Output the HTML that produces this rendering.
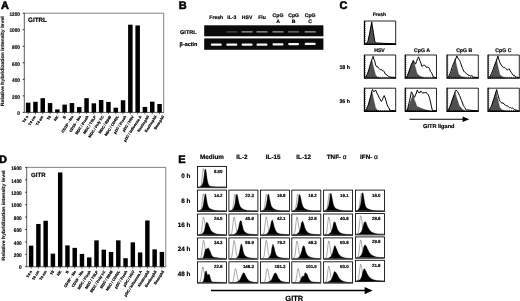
<!DOCTYPE html>
<html><head><meta charset="utf-8"><title>Figure</title>
<style>html,body{margin:0;padding:0;background:#fff;}body{width:520px;height:301px;overflow:hidden;}svg{display:block;filter:blur(0.3px);text-rendering:geometricPrecision;}</style>
</head><body>
<svg width="520" height="301" viewBox="0 0 520 301" font-family="Liberation Sans, Arial, sans-serif" font-weight="bold">
<rect width="520" height="301" fill="#fff"/>
<text x="0.90" y="8.60" font-size="11" text-anchor="start" fill="#000" stroke="#000" stroke-width="0.55" >A</text>
<text x="178.80" y="8.50" font-size="11" text-anchor="start" fill="#000" stroke="#000" stroke-width="0.55" >B</text>
<text x="339.40" y="8.80" font-size="11" text-anchor="start" fill="#000" stroke="#000" stroke-width="0.55" >C</text>
<text x="-1.10" y="163.00" font-size="11" text-anchor="start" fill="#000" stroke="#000" stroke-width="0.55" >D</text>
<text x="178.30" y="163.00" font-size="11" text-anchor="start" fill="#000" stroke="#000" stroke-width="0.55" >E</text>
<path d="M24.3,13.2 H163.7 V112.4" fill="none" stroke="#5a5a5a" stroke-width="0.75"/>
<path d="M24.3,12.899999999999999 V112.4 H164.0" fill="none" stroke="#333" stroke-width="0.8"/>
<line x1="22.7" y1="112.40" x2="24.3" y2="112.40" stroke="#000" stroke-width="0.8"/>
<text x="19.90" y="115.10" font-size="5.2" text-anchor="end" fill="#000" stroke="#000" stroke-width="0.15" textLength="2.63" lengthAdjust="spacingAndGlyphs">0</text>
<line x1="22.7" y1="95.87" x2="24.3" y2="95.87" stroke="#000" stroke-width="0.8"/>
<text x="19.90" y="98.57" font-size="5.2" text-anchor="end" fill="#000" stroke="#000" stroke-width="0.15" textLength="7.89" lengthAdjust="spacingAndGlyphs">200</text>
<line x1="22.7" y1="79.33" x2="24.3" y2="79.33" stroke="#000" stroke-width="0.8"/>
<text x="19.90" y="82.03" font-size="5.2" text-anchor="end" fill="#000" stroke="#000" stroke-width="0.15" textLength="7.89" lengthAdjust="spacingAndGlyphs">400</text>
<line x1="22.7" y1="62.80" x2="24.3" y2="62.80" stroke="#000" stroke-width="0.8"/>
<text x="19.90" y="65.50" font-size="5.2" text-anchor="end" fill="#000" stroke="#000" stroke-width="0.15" textLength="7.89" lengthAdjust="spacingAndGlyphs">600</text>
<line x1="22.7" y1="46.27" x2="24.3" y2="46.27" stroke="#000" stroke-width="0.8"/>
<text x="19.90" y="48.97" font-size="5.2" text-anchor="end" fill="#000" stroke="#000" stroke-width="0.15" textLength="7.89" lengthAdjust="spacingAndGlyphs">800</text>
<line x1="22.7" y1="29.73" x2="24.3" y2="29.73" stroke="#000" stroke-width="0.8"/>
<text x="19.90" y="32.43" font-size="5.2" text-anchor="end" fill="#000" stroke="#000" stroke-width="0.15" textLength="10.52" lengthAdjust="spacingAndGlyphs">1000</text>
<line x1="22.7" y1="13.20" x2="24.3" y2="13.20" stroke="#000" stroke-width="0.8"/>
<text x="19.90" y="15.90" font-size="5.2" text-anchor="end" fill="#000" stroke="#000" stroke-width="0.15" textLength="10.52" lengthAdjust="spacingAndGlyphs">1200</text>
<rect x="25.90" y="102.65" width="4.5" height="9.75" fill="#000"/>
<line x1="28.15" y1="112.4" x2="28.15" y2="114.2" stroke="#000" stroke-width="0.6"/>
<text transform="translate(28.40,116.70) rotate(-57.5)" font-size="3.7" text-anchor="end" fill="#000" stroke="#000" stroke-width="0.18">T4 n</text>
<rect x="33.20" y="101.82" width="4.5" height="10.58" fill="#000"/>
<line x1="35.45" y1="112.4" x2="35.45" y2="114.2" stroke="#000" stroke-width="0.6"/>
<text transform="translate(35.95,116.70) rotate(-57.5)" font-size="3.7" text-anchor="end" fill="#000" stroke="#000" stroke-width="0.18">T4 cm</text>
<rect x="40.50" y="98.18" width="4.5" height="14.22" fill="#000"/>
<line x1="42.75" y1="112.4" x2="42.75" y2="114.2" stroke="#000" stroke-width="0.6"/>
<text transform="translate(43.50,116.70) rotate(-57.5)" font-size="3.7" text-anchor="end" fill="#000" stroke="#000" stroke-width="0.18">T4 em</text>
<rect x="47.80" y="103.06" width="4.5" height="9.34" fill="#000"/>
<line x1="50.05" y1="112.4" x2="50.05" y2="114.2" stroke="#000" stroke-width="0.6"/>
<text transform="translate(51.05,116.70) rotate(-57.5)" font-size="3.7" text-anchor="end" fill="#000" stroke="#000" stroke-width="0.18">T8</text>
<rect x="55.10" y="109.42" width="4.5" height="2.98" fill="#000"/>
<line x1="57.35" y1="112.4" x2="57.35" y2="114.2" stroke="#000" stroke-width="0.6"/>
<text transform="translate(58.60,116.70) rotate(-57.5)" font-size="3.7" text-anchor="end" fill="#000" stroke="#000" stroke-width="0.18">NK</text>
<rect x="62.40" y="104.63" width="4.5" height="7.77" fill="#000"/>
<line x1="64.65" y1="112.4" x2="64.65" y2="114.2" stroke="#000" stroke-width="0.6"/>
<text transform="translate(66.15,116.70) rotate(-57.5)" font-size="3.7" text-anchor="end" fill="#000" stroke="#000" stroke-width="0.18">B</text>
<rect x="69.70" y="103.06" width="4.5" height="9.34" fill="#000"/>
<line x1="71.95" y1="112.4" x2="71.95" y2="114.2" stroke="#000" stroke-width="0.6"/>
<text transform="translate(73.70,116.70) rotate(-57.5)" font-size="3.7" text-anchor="end" fill="#000" stroke="#000" stroke-width="0.18">CD16<tspan baseline-shift='super' font-size='2.2'>+</tspan> - Mo</text>
<rect x="77.00" y="107.03" width="4.5" height="5.37" fill="#000"/>
<line x1="79.25" y1="112.4" x2="79.25" y2="114.2" stroke="#000" stroke-width="0.6"/>
<text transform="translate(81.25,116.70) rotate(-57.5)" font-size="3.7" text-anchor="end" fill="#000" stroke="#000" stroke-width="0.18">CD16<tspan baseline-shift='super' font-size='2.2'>-</tspan> - Mo</text>
<rect x="84.30" y="98.18" width="4.5" height="14.22" fill="#000"/>
<line x1="86.55" y1="112.4" x2="86.55" y2="114.2" stroke="#000" stroke-width="0.6"/>
<text transform="translate(88.80,116.70) rotate(-57.5)" font-size="3.7" text-anchor="end" fill="#000" stroke="#000" stroke-width="0.18">MDC / Fresh</text>
<rect x="91.60" y="103.31" width="4.5" height="9.09" fill="#000"/>
<line x1="93.85" y1="112.4" x2="93.85" y2="114.2" stroke="#000" stroke-width="0.6"/>
<text transform="translate(96.35,116.70) rotate(-57.5)" font-size="3.7" text-anchor="end" fill="#000" stroke="#000" stroke-width="0.18">MDC / TSLP</text>
<rect x="98.90" y="100.00" width="4.5" height="12.40" fill="#000"/>
<line x1="101.15" y1="112.4" x2="101.15" y2="114.2" stroke="#000" stroke-width="0.6"/>
<text transform="translate(103.90,116.70) rotate(-57.5)" font-size="3.7" text-anchor="end" fill="#000" stroke="#000" stroke-width="0.18">MDC / Poly I:C</text>
<rect x="106.20" y="101.90" width="4.5" height="10.50" fill="#000"/>
<line x1="108.45" y1="112.4" x2="108.45" y2="114.2" stroke="#000" stroke-width="0.6"/>
<text transform="translate(111.45,116.70) rotate(-57.5)" font-size="3.7" text-anchor="end" fill="#000" stroke="#000" stroke-width="0.18">MDC / R848</text>
<rect x="113.50" y="107.69" width="4.5" height="4.71" fill="#000"/>
<line x1="115.75" y1="112.4" x2="115.75" y2="114.2" stroke="#000" stroke-width="0.6"/>
<text transform="translate(119.00,116.70) rotate(-57.5)" font-size="3.7" text-anchor="end" fill="#000" stroke="#000" stroke-width="0.18">MDC / CD40L</text>
<rect x="120.80" y="100.25" width="4.5" height="12.15" fill="#000"/>
<line x1="123.05" y1="112.4" x2="123.05" y2="114.2" stroke="#000" stroke-width="0.6"/>
<text transform="translate(126.55,116.70) rotate(-57.5)" font-size="3.7" text-anchor="end" fill="#000" stroke="#000" stroke-width="0.18">pDC / Fresh</text>
<rect x="128.10" y="24.69" width="4.5" height="87.71" fill="#000"/>
<line x1="130.35" y1="112.4" x2="130.35" y2="114.2" stroke="#000" stroke-width="0.6"/>
<text transform="translate(134.10,116.70) rotate(-57.5)" font-size="3.7" text-anchor="end" fill="#000" stroke="#000" stroke-width="0.18">pDC / HSV</text>
<rect x="135.40" y="25.43" width="4.5" height="86.97" fill="#000"/>
<line x1="137.65" y1="112.4" x2="137.65" y2="114.2" stroke="#000" stroke-width="0.6"/>
<text transform="translate(141.65,116.70) rotate(-57.5)" font-size="3.7" text-anchor="end" fill="#000" stroke="#000" stroke-width="0.18">pDC / Influenza A</text>
<rect x="142.70" y="106.94" width="4.5" height="5.46" fill="#000"/>
<line x1="144.95" y1="112.4" x2="144.95" y2="114.2" stroke="#000" stroke-width="0.6"/>
<text transform="translate(149.20,116.70) rotate(-57.5)" font-size="3.7" text-anchor="end" fill="#000" stroke="#000" stroke-width="0.18">Neutrophil</text>
<rect x="150.00" y="101.65" width="4.5" height="10.75" fill="#000"/>
<line x1="152.25" y1="112.4" x2="152.25" y2="114.2" stroke="#000" stroke-width="0.6"/>
<text transform="translate(156.75,116.70) rotate(-57.5)" font-size="3.7" text-anchor="end" fill="#000" stroke="#000" stroke-width="0.18">Eosinophil</text>
<rect x="157.30" y="103.97" width="4.5" height="8.43" fill="#000"/>
<line x1="159.55" y1="112.4" x2="159.55" y2="114.2" stroke="#000" stroke-width="0.6"/>
<text transform="translate(164.30,116.70) rotate(-57.5)" font-size="3.7" text-anchor="end" fill="#000" stroke="#000" stroke-width="0.18">Basophil</text>
<text x="28.00" y="22.00" font-size="6.3" text-anchor="start" fill="#000" stroke="#000" stroke-width="0.18" >GITRL</text>
<text transform="translate(3.9,61.20) rotate(-90)" font-size="4.7" textLength="90" lengthAdjust="spacingAndGlyphs" text-anchor="middle" fill="#111" stroke="#111" stroke-width="0.15">Relative hybridization intensity level</text>
<path d="M26.7,167.4 H165.75 V266.75" fill="none" stroke="#5a5a5a" stroke-width="0.75"/>
<path d="M26.7,167.1 V266.75 H166.05" fill="none" stroke="#333" stroke-width="0.8"/>
<line x1="25.2" y1="266.75" x2="26.7" y2="266.75" stroke="#000" stroke-width="0.8"/>
<text x="21.70" y="269.45" font-size="5.2" text-anchor="end" fill="#000" stroke="#000" stroke-width="0.15" textLength="2.63" lengthAdjust="spacingAndGlyphs">0</text>
<line x1="25.2" y1="254.33" x2="26.7" y2="254.33" stroke="#000" stroke-width="0.8"/>
<text x="21.70" y="257.03" font-size="5.2" text-anchor="end" fill="#000" stroke="#000" stroke-width="0.15" textLength="7.89" lengthAdjust="spacingAndGlyphs">200</text>
<line x1="25.2" y1="241.91" x2="26.7" y2="241.91" stroke="#000" stroke-width="0.8"/>
<text x="21.70" y="244.61" font-size="5.2" text-anchor="end" fill="#000" stroke="#000" stroke-width="0.15" textLength="7.89" lengthAdjust="spacingAndGlyphs">400</text>
<line x1="25.2" y1="229.49" x2="26.7" y2="229.49" stroke="#000" stroke-width="0.8"/>
<text x="21.70" y="232.19" font-size="5.2" text-anchor="end" fill="#000" stroke="#000" stroke-width="0.15" textLength="7.89" lengthAdjust="spacingAndGlyphs">600</text>
<line x1="25.2" y1="217.07" x2="26.7" y2="217.07" stroke="#000" stroke-width="0.8"/>
<text x="21.70" y="219.77" font-size="5.2" text-anchor="end" fill="#000" stroke="#000" stroke-width="0.15" textLength="7.89" lengthAdjust="spacingAndGlyphs">800</text>
<line x1="25.2" y1="204.66" x2="26.7" y2="204.66" stroke="#000" stroke-width="0.8"/>
<text x="21.70" y="207.36" font-size="5.2" text-anchor="end" fill="#000" stroke="#000" stroke-width="0.15" textLength="10.52" lengthAdjust="spacingAndGlyphs">1000</text>
<line x1="25.2" y1="192.24" x2="26.7" y2="192.24" stroke="#000" stroke-width="0.8"/>
<text x="21.70" y="194.94" font-size="5.2" text-anchor="end" fill="#000" stroke="#000" stroke-width="0.15" textLength="10.52" lengthAdjust="spacingAndGlyphs">1200</text>
<line x1="25.2" y1="179.82" x2="26.7" y2="179.82" stroke="#000" stroke-width="0.8"/>
<text x="21.70" y="182.52" font-size="5.2" text-anchor="end" fill="#000" stroke="#000" stroke-width="0.15" textLength="10.52" lengthAdjust="spacingAndGlyphs">1400</text>
<line x1="25.2" y1="167.40" x2="26.7" y2="167.40" stroke="#000" stroke-width="0.8"/>
<text x="21.70" y="170.10" font-size="5.2" text-anchor="end" fill="#000" stroke="#000" stroke-width="0.15" textLength="10.52" lengthAdjust="spacingAndGlyphs">1600</text>
<rect x="28.90" y="245.64" width="4.45" height="21.11" fill="#000"/>
<line x1="31.12" y1="266.75" x2="31.12" y2="268.55" stroke="#000" stroke-width="0.6"/>
<text transform="translate(32.30,271.55) rotate(-57.5)" font-size="3.7" text-anchor="end" fill="#000" stroke="#000" stroke-width="0.18">T4 n</text>
<rect x="36.16" y="223.97" width="4.45" height="42.78" fill="#000"/>
<line x1="38.39" y1="266.75" x2="38.39" y2="268.55" stroke="#000" stroke-width="0.6"/>
<text transform="translate(39.63,271.55) rotate(-57.5)" font-size="3.7" text-anchor="end" fill="#000" stroke="#000" stroke-width="0.18">T4 cm</text>
<rect x="43.43" y="220.74" width="4.45" height="46.01" fill="#000"/>
<line x1="45.66" y1="266.75" x2="45.66" y2="268.55" stroke="#000" stroke-width="0.6"/>
<text transform="translate(46.96,271.55) rotate(-57.5)" font-size="3.7" text-anchor="end" fill="#000" stroke="#000" stroke-width="0.18">T4 em</text>
<rect x="50.69" y="253.65" width="4.45" height="13.10" fill="#000"/>
<line x1="52.92" y1="266.75" x2="52.92" y2="268.55" stroke="#000" stroke-width="0.6"/>
<text transform="translate(54.29,271.55) rotate(-57.5)" font-size="3.7" text-anchor="end" fill="#000" stroke="#000" stroke-width="0.18">T8</text>
<rect x="57.96" y="172.43" width="4.45" height="94.32" fill="#000"/>
<line x1="60.18" y1="266.75" x2="60.18" y2="268.55" stroke="#000" stroke-width="0.6"/>
<text transform="translate(61.62,271.55) rotate(-57.5)" font-size="3.7" text-anchor="end" fill="#000" stroke="#000" stroke-width="0.18">NK</text>
<rect x="65.22" y="245.39" width="4.45" height="21.36" fill="#000"/>
<line x1="67.45" y1="266.75" x2="67.45" y2="268.55" stroke="#000" stroke-width="0.6"/>
<text transform="translate(68.95,271.55) rotate(-57.5)" font-size="3.7" text-anchor="end" fill="#000" stroke="#000" stroke-width="0.18">B</text>
<rect x="72.49" y="247.87" width="4.45" height="18.88" fill="#000"/>
<line x1="74.71" y1="266.75" x2="74.71" y2="268.55" stroke="#000" stroke-width="0.6"/>
<text transform="translate(76.28,271.55) rotate(-57.5)" font-size="3.7" text-anchor="end" fill="#000" stroke="#000" stroke-width="0.18">CD16<tspan baseline-shift='super' font-size='2.2'>+</tspan> - Mo</text>
<rect x="79.75" y="253.90" width="4.45" height="12.85" fill="#000"/>
<line x1="81.98" y1="266.75" x2="81.98" y2="268.55" stroke="#000" stroke-width="0.6"/>
<text transform="translate(83.61,271.55) rotate(-57.5)" font-size="3.7" text-anchor="end" fill="#000" stroke="#000" stroke-width="0.18">CD16<tspan baseline-shift='super' font-size='2.2'>-</tspan> - Mo</text>
<rect x="87.02" y="257.44" width="4.45" height="9.31" fill="#000"/>
<line x1="89.24" y1="266.75" x2="89.24" y2="268.55" stroke="#000" stroke-width="0.6"/>
<text transform="translate(90.94,271.55) rotate(-57.5)" font-size="3.7" text-anchor="end" fill="#000" stroke="#000" stroke-width="0.18">MDC / Fresh</text>
<rect x="94.28" y="240.36" width="4.45" height="26.39" fill="#000"/>
<line x1="96.51" y1="266.75" x2="96.51" y2="268.55" stroke="#000" stroke-width="0.6"/>
<text transform="translate(98.27,271.55) rotate(-57.5)" font-size="3.7" text-anchor="end" fill="#000" stroke="#000" stroke-width="0.18">MDC / TSLP</text>
<rect x="101.55" y="249.67" width="4.45" height="17.08" fill="#000"/>
<line x1="103.77" y1="266.75" x2="103.77" y2="268.55" stroke="#000" stroke-width="0.6"/>
<text transform="translate(105.60,271.55) rotate(-57.5)" font-size="3.7" text-anchor="end" fill="#000" stroke="#000" stroke-width="0.18">MDC / Poly I:C</text>
<rect x="108.81" y="251.91" width="4.45" height="14.84" fill="#000"/>
<line x1="111.04" y1="266.75" x2="111.04" y2="268.55" stroke="#000" stroke-width="0.6"/>
<text transform="translate(112.93,271.55) rotate(-57.5)" font-size="3.7" text-anchor="end" fill="#000" stroke="#000" stroke-width="0.18">MDC / R848</text>
<rect x="116.08" y="240.36" width="4.45" height="26.39" fill="#000"/>
<line x1="118.30" y1="266.75" x2="118.30" y2="268.55" stroke="#000" stroke-width="0.6"/>
<text transform="translate(120.26,271.55) rotate(-57.5)" font-size="3.7" text-anchor="end" fill="#000" stroke="#000" stroke-width="0.18">MDC / CD40L</text>
<rect x="123.34" y="258.18" width="4.45" height="8.57" fill="#000"/>
<line x1="125.57" y1="266.75" x2="125.57" y2="268.55" stroke="#000" stroke-width="0.6"/>
<text transform="translate(127.59,271.55) rotate(-57.5)" font-size="3.7" text-anchor="end" fill="#000" stroke="#000" stroke-width="0.18">pDC / Fresh</text>
<rect x="130.61" y="242.35" width="4.45" height="24.40" fill="#000"/>
<line x1="132.83" y1="266.75" x2="132.83" y2="268.55" stroke="#000" stroke-width="0.6"/>
<text transform="translate(134.92,271.55) rotate(-57.5)" font-size="3.7" text-anchor="end" fill="#000" stroke="#000" stroke-width="0.18">pDC / HSV</text>
<rect x="137.88" y="252.41" width="4.45" height="14.34" fill="#000"/>
<line x1="140.10" y1="266.75" x2="140.10" y2="268.55" stroke="#000" stroke-width="0.6"/>
<text transform="translate(142.25,271.55) rotate(-57.5)" font-size="3.7" text-anchor="end" fill="#000" stroke="#000" stroke-width="0.18">pDC / Influenza A</text>
<rect x="145.14" y="220.49" width="4.45" height="46.26" fill="#000"/>
<line x1="147.36" y1="266.75" x2="147.36" y2="268.55" stroke="#000" stroke-width="0.6"/>
<text transform="translate(149.58,271.55) rotate(-57.5)" font-size="3.7" text-anchor="end" fill="#000" stroke="#000" stroke-width="0.18">Neutrophil</text>
<rect x="152.41" y="249.36" width="4.45" height="17.39" fill="#000"/>
<line x1="154.63" y1="266.75" x2="154.63" y2="268.55" stroke="#000" stroke-width="0.6"/>
<text transform="translate(156.91,271.55) rotate(-57.5)" font-size="3.7" text-anchor="end" fill="#000" stroke="#000" stroke-width="0.18">Eosinophil</text>
<rect x="159.67" y="251.91" width="4.45" height="14.84" fill="#000"/>
<line x1="161.89" y1="266.75" x2="161.89" y2="268.55" stroke="#000" stroke-width="0.6"/>
<text transform="translate(164.24,271.55) rotate(-57.5)" font-size="3.7" text-anchor="end" fill="#000" stroke="#000" stroke-width="0.18">Basophil</text>
<text x="31.00" y="176.70" font-size="6.1" text-anchor="start" fill="#000" stroke="#000" stroke-width="0.18" >GITR</text>
<text transform="translate(4.6,215.47) rotate(-90)" font-size="4.7" textLength="90" lengthAdjust="spacingAndGlyphs" text-anchor="middle" fill="#111" stroke="#111" stroke-width="0.15">Relative hybridization intensity level</text>
<rect x="204.2" y="25.3" width="119.19999999999999" height="11.0" fill="#0a0a0a"/>
<rect x="204.2" y="38.4" width="119.19999999999999" height="11.4" fill="#0a0a0a"/>
<text x="216.30" y="19.30" font-size="5.1" text-anchor="middle" fill="#000" stroke="#000" stroke-width="0.18" >Fresh</text>
<text x="231.80" y="19.30" font-size="5.1" text-anchor="middle" fill="#000" stroke="#000" stroke-width="0.18" >IL-3</text>
<text x="247.10" y="19.30" font-size="5.1" text-anchor="middle" fill="#000" stroke="#000" stroke-width="0.18" >HSV</text>
<text x="262.00" y="19.30" font-size="5.1" text-anchor="middle" fill="#000" stroke="#000" stroke-width="0.18" >Flu</text>
<text x="278.00" y="16.70" font-size="5.1" text-anchor="middle" fill="#000" stroke="#000" stroke-width="0.18" >CpG</text>
<text x="278.00" y="22.90" font-size="5.1" text-anchor="middle" fill="#000" stroke="#000" stroke-width="0.18" >A</text>
<text x="293.60" y="16.70" font-size="5.1" text-anchor="middle" fill="#000" stroke="#000" stroke-width="0.18" >CpG</text>
<text x="293.60" y="22.90" font-size="5.1" text-anchor="middle" fill="#000" stroke="#000" stroke-width="0.18" >B</text>
<text x="310.20" y="16.70" font-size="5.1" text-anchor="middle" fill="#000" stroke="#000" stroke-width="0.18" >CpG</text>
<text x="310.20" y="22.90" font-size="5.1" text-anchor="middle" fill="#000" stroke="#000" stroke-width="0.18" >C</text>
<text x="180.10" y="34.30" font-size="5.5" text-anchor="start" fill="#000" stroke="#000" stroke-width="0.18" >GITRL</text>
<text x="179.60" y="46.30" font-size="5.45" text-anchor="start" fill="#000" stroke="#000" stroke-width="0.18" >β-actin</text>
<defs><filter id="b1" x="-20%" y="-100%" width="140%" height="300%"><feGaussianBlur stdDeviation="0.45"/></filter></defs>
<rect x="210.8" y="43.5" width="11" height="2.3" rx="1.1" fill="#fff" opacity="0.97" filter="url(#b1)"/>
<rect x="226.20000000000002" y="31.2" width="11.2" height="1.25" rx="0.5" fill="#fff" opacity="0.26" filter="url(#b1)"/>
<rect x="226.3" y="43.5" width="11" height="2.3" rx="1.1" fill="#fff" opacity="0.97" filter="url(#b1)"/>
<rect x="241.5" y="31.2" width="11.2" height="1.25" rx="0.5" fill="#fff" opacity="0.62" filter="url(#b1)"/>
<rect x="241.6" y="43.5" width="11" height="2.3" rx="1.1" fill="#fff" opacity="0.97" filter="url(#b1)"/>
<rect x="256.4" y="31.2" width="11.2" height="1.25" rx="0.5" fill="#fff" opacity="0.62" filter="url(#b1)"/>
<rect x="256.5" y="43.5" width="11" height="2.3" rx="1.1" fill="#fff" opacity="0.97" filter="url(#b1)"/>
<rect x="272.4" y="31.2" width="11.2" height="1.25" rx="0.5" fill="#fff" opacity="0.6" filter="url(#b1)"/>
<rect x="272.5" y="43.3" width="11" height="2.3" rx="1.1" fill="#fff" opacity="0.97" filter="url(#b1)"/>
<rect x="288.0" y="31.2" width="11.2" height="1.25" rx="0.5" fill="#fff" opacity="0.45" filter="url(#b1)"/>
<rect x="288.1" y="42.9" width="11" height="2.3" rx="1.1" fill="#fff" opacity="0.97" filter="url(#b1)"/>
<rect x="304.59999999999997" y="31.2" width="11.2" height="1.25" rx="0.5" fill="#fff" opacity="0.62" filter="url(#b1)"/>
<rect x="304.7" y="42.8" width="11" height="2.3" rx="1.1" fill="#fff" opacity="0.97" filter="url(#b1)"/>
<rect x="364.3" y="21.0" width="31.4" height="23.7" fill="#fff" stroke="none"/>
<path d="M365.9,44.0L366.6,43.1L367.3,42.2L368.1,41.3L368.7,38.0L369.4,34.7L370.1,31.5L370.6,28.4L371.2,25.4L371.7,22.3L372.2,25.8L372.7,29.2L373.2,32.6L373.7,35.6L374.2,38.7L374.7,41.7L375.4,42.3L376.1,42.8L376.9,43.3L379.0,43.5L381.0,43.6L383.1,43.8L383.3,43.8L383.6,43.9L383.8,44.0Z" fill="#505050" stroke="#444" stroke-width="0.3"/>
<path d="M364.9,44.0L365.2,43.8L365.6,43.7L365.9,43.5L366.6,42.9L367.3,42.3L368.1,40.8L368.7,37.3L369.4,35.0L370.1,31.0L370.6,27.9L371.2,25.1L371.7,21.9L372.3,26.2L372.8,29.0L373.4,32.6L373.9,36.2L374.3,38.5L374.8,41.3L375.6,42.5L376.4,43.0L377.2,42.9L379.2,43.1L381.2,43.2L383.1,43.3L387.1,43.5L391.1,43.6L395.1,43.8" fill="none" stroke="#000" stroke-width="1.0" stroke-linejoin="round"/>
<path d="M364.3,21.0 H395.7 V44.7" fill="none" stroke="#000" stroke-width="0.85"/>
<path d="M364.45,20.65 V44.35 H396.05" fill="none" stroke="#000" stroke-width="1.25"/>
<path d="M364.8,43.6 H395.7" fill="none" stroke="#000" stroke-width="0.9" stroke-dasharray="0.8 1.1"/>
<path d="M365.2,22.0 V44.7" fill="none" stroke="#000" stroke-width="0.7" stroke-dasharray="0.7 1.3"/>
<text x="379.30" y="16.20" font-size="4.9" text-anchor="middle" fill="#000" stroke="#000" stroke-width="0.18" >Fresh</text>
<text x="379.50" y="51.50" font-size="5.2" text-anchor="middle" fill="#000" stroke="#000" stroke-width="0.18" >HSV</text>
<text x="422.00" y="51.50" font-size="5.2" text-anchor="middle" fill="#000" stroke="#000" stroke-width="0.18" >CpG A</text>
<text x="464.20" y="51.50" font-size="5.2" text-anchor="middle" fill="#000" stroke="#000" stroke-width="0.18" >CpG B</text>
<text x="503.40" y="51.50" font-size="5.2" text-anchor="middle" fill="#000" stroke="#000" stroke-width="0.18" >CpG C</text>
<rect x="364.3" y="55.0" width="31.4" height="23.4" fill="#fff" stroke="none"/>
<path d="M365.4,77.7L366.1,76.6L366.8,75.5L367.4,74.3L368.3,71.7L369.1,69.1L370.0,66.5L370.6,64.1L371.2,61.8L371.8,59.5L372.5,62.2L373.1,64.9L373.7,67.6L374.3,70.0L375.0,72.5L375.6,75.0L376.2,75.7L376.9,76.4L377.5,77.0L378.3,77.2L379.2,77.5L380.0,77.7Z" fill="#505050" stroke="#444" stroke-width="0.3"/>
<path d="M364.9,77.7L365.2,77.5L365.6,77.2L365.9,77.0L366.6,74.9L367.3,74.3L368.1,72.1L368.9,69.7L369.7,66.3L370.6,63.8L371.4,60.6L372.3,58.7L373.1,56.3L373.9,59.3L374.8,61.3L375.6,64.9L376.5,66.6L377.5,66.4L378.4,68.0L379.5,68.9L380.5,69.6L381.6,69.6L382.2,70.7L382.8,70.8L383.5,71.0L384.3,71.6L385.1,73.8L386.0,74.4L387.1,75.2L388.2,75.9L389.3,77.0L391.2,77.2L393.1,77.3L395.1,77.5" fill="none" stroke="#000" stroke-width="1.0" stroke-linejoin="round"/>
<path d="M364.3,55.0 H395.7 V78.4" fill="none" stroke="#000" stroke-width="0.85"/>
<path d="M364.45,54.65 V78.05000000000001 H396.05" fill="none" stroke="#000" stroke-width="1.25"/>
<path d="M364.8,77.30000000000001 H395.7" fill="none" stroke="#000" stroke-width="0.9" stroke-dasharray="0.8 1.1"/>
<path d="M365.2,56.0 V78.4" fill="none" stroke="#000" stroke-width="0.7" stroke-dasharray="0.7 1.3"/>
<rect x="364.3" y="88.2" width="31.4" height="23.4" fill="#fff" stroke="none"/>
<path d="M365.4,110.9L366.1,109.8L366.8,108.6L367.4,107.5L368.3,104.5L369.1,101.5L370.0,98.5L370.6,96.0L371.2,93.4L371.8,90.9L372.5,93.8L373.1,96.7L373.7,99.6L374.3,102.3L375.0,105.0L375.6,107.7L376.2,108.6L376.9,109.4L377.5,110.2L378.3,110.4L379.2,110.7L380.0,110.9Z" fill="#505050" stroke="#444" stroke-width="0.3"/>
<path d="M364.9,110.9L365.2,110.7L365.6,110.4L365.9,110.2L366.6,108.8L367.3,106.8L368.1,105.3L368.9,103.0L369.7,100.0L370.6,96.3L371.2,94.5L371.8,91.5L372.5,89.5L373.0,90.4L373.5,91.3L374.0,91.8L374.6,91.0L375.1,90.6L375.6,90.0L376.9,93.1L378.1,95.1L379.4,98.3L380.1,99.0L380.8,100.8L381.6,101.4L382.5,99.4L383.3,97.5L384.2,95.6L385.2,98.0L386.1,101.2L387.1,104.6L388.0,106.9L388.9,107.7L389.9,110.4L391.6,110.5L393.3,110.6L395.1,110.7" fill="none" stroke="#000" stroke-width="1.0" stroke-linejoin="round"/>
<path d="M364.3,88.2 H395.7 V111.6" fill="none" stroke="#000" stroke-width="0.85"/>
<path d="M364.45,87.85000000000001 V111.25 H396.05" fill="none" stroke="#000" stroke-width="1.25"/>
<path d="M364.8,110.5 H395.7" fill="none" stroke="#000" stroke-width="0.9" stroke-dasharray="0.8 1.1"/>
<path d="M365.2,89.2 V111.6" fill="none" stroke="#000" stroke-width="0.7" stroke-dasharray="0.7 1.3"/>
<rect x="405.1" y="55.0" width="31.4" height="23.4" fill="#fff" stroke="none"/>
<path d="M406.0,77.7L406.8,76.2L407.5,74.7L408.2,73.2L409.2,70.6L410.1,68.0L411.1,65.3L411.8,63.5L412.5,61.6L413.3,59.7L413.9,62.0L414.5,64.2L415.1,66.5L415.8,68.7L416.4,71.0L417.0,73.2L418.0,74.2L418.9,75.2L419.9,76.1L420.9,76.5L422.0,76.9L423.0,77.2L423.3,77.4L423.6,77.5L423.9,77.7Z" fill="#505050" stroke="#444" stroke-width="0.3"/>
<path d="M405.7,77.7L406.0,77.5L406.4,77.4L406.7,77.2L407.5,75.8L408.3,73.2L409.2,71.0L409.9,68.3L410.6,67.0L411.4,64.2L412.0,63.1L412.6,62.7L413.3,60.8L414.0,61.7L414.7,62.7L415.5,64.2L416.5,61.6L417.6,58.7L418.6,56.8L419.7,60.3L420.8,62.9L421.9,66.5L422.7,65.8L423.5,65.3L424.3,64.9L425.0,65.8L425.7,66.1L426.5,67.6L427.2,66.9L428.0,67.6L428.8,67.6L429.6,68.8L430.4,71.3L431.2,72.1L431.9,73.5L432.7,75.3L433.5,77.2L434.3,77.3L435.1,77.4L435.9,77.5" fill="none" stroke="#000" stroke-width="1.0" stroke-linejoin="round"/>
<path d="M405.1,55.0 H436.5 V78.4" fill="none" stroke="#000" stroke-width="0.85"/>
<path d="M405.25,54.65 V78.05000000000001 H436.85" fill="none" stroke="#000" stroke-width="1.25"/>
<path d="M405.6,77.30000000000001 H436.5" fill="none" stroke="#000" stroke-width="0.9" stroke-dasharray="0.8 1.1"/>
<path d="M406.0,56.0 V78.4" fill="none" stroke="#000" stroke-width="0.7" stroke-dasharray="0.7 1.3"/>
<rect x="405.1" y="88.2" width="31.4" height="23.4" fill="#fff" stroke="none"/>
<path d="M406.0,110.9L406.8,109.8L407.5,108.6L408.2,107.5L409.2,104.9L410.1,102.3L411.1,99.6L411.7,98.1L412.3,96.6L413.0,95.1L413.6,97.0L414.2,98.9L414.8,100.8L415.6,102.6L416.3,104.5L417.0,106.4L418.8,107.1L420.6,107.9L422.4,108.6L424.1,109.2L425.9,109.7L427.7,110.2L428.5,110.4L429.4,110.7L430.2,110.9Z" fill="#505050" stroke="#444" stroke-width="0.3"/>
<path d="M405.7,110.9L406.4,110.7L407.0,110.4L407.6,110.2L408.2,106.3L408.9,103.4L409.5,100.8L410.1,98.1L410.8,95.0L411.4,91.8L412.4,93.4L413.5,96.3L414.5,97.4L415.5,95.0L416.4,93.0L417.3,90.0L418.0,91.6L418.6,92.6L419.2,92.9L419.8,91.9L420.3,92.3L420.8,91.1L421.6,92.2L422.5,92.8L423.3,93.3L424.0,92.3L424.8,93.1L425.5,92.0L426.2,92.8L427.0,93.3L427.7,94.0L428.3,94.9L429.0,96.5L429.6,98.5L430.5,101.9L431.5,106.8L432.4,110.4L433.6,110.5L434.7,110.6L435.9,110.7" fill="none" stroke="#000" stroke-width="1.0" stroke-linejoin="round"/>
<path d="M405.1,88.2 H436.5 V111.6" fill="none" stroke="#000" stroke-width="0.85"/>
<path d="M405.25,87.85000000000001 V111.25 H436.85" fill="none" stroke="#000" stroke-width="1.25"/>
<path d="M405.6,110.5 H436.5" fill="none" stroke="#000" stroke-width="0.9" stroke-dasharray="0.8 1.1"/>
<path d="M406.0,89.2 V111.6" fill="none" stroke="#000" stroke-width="0.7" stroke-dasharray="0.7 1.3"/>
<rect x="446.9" y="55.0" width="31.4" height="23.4" fill="#fff" stroke="none"/>
<path d="M448.2,77.7L448.9,76.6L449.6,75.5L450.4,74.3L451.3,71.7L452.2,69.1L453.2,66.5L453.8,63.8L454.4,61.1L455.1,58.4L455.6,61.1L456.2,63.8L456.8,66.5L457.4,68.9L457.9,71.4L458.5,73.9L459.4,74.7L460.2,75.5L461.0,76.4L462.2,76.7L463.3,77.0L464.5,77.2L464.9,77.4L465.3,77.5L465.7,77.7Z" fill="#505050" stroke="#444" stroke-width="0.3"/>
<path d="M447.5,77.7L447.8,77.5L448.2,77.2L448.5,77.0L449.3,75.1L450.1,73.2L451.0,71.0L451.9,67.7L452.9,65.0L453.8,63.1L454.8,61.2L455.8,58.8L456.8,55.9L457.8,57.9L458.8,59.4L459.8,60.6L460.4,62.4L461.0,64.1L461.6,66.0L462.6,68.5L463.7,71.0L464.8,72.3L466.3,73.5L467.7,74.6L469.2,75.5L470.7,75.9L472.1,75.9L473.6,77.2L475.0,77.3L476.3,77.4L477.7,77.5" fill="none" stroke="#000" stroke-width="1.0" stroke-linejoin="round"/>
<path d="M446.9,55.0 H478.29999999999995 V78.4" fill="none" stroke="#000" stroke-width="0.85"/>
<path d="M447.04999999999995,54.65 V78.05000000000001 H478.65" fill="none" stroke="#000" stroke-width="1.25"/>
<path d="M447.4,77.30000000000001 H478.29999999999995" fill="none" stroke="#000" stroke-width="0.9" stroke-dasharray="0.8 1.1"/>
<path d="M447.79999999999995,56.0 V78.4" fill="none" stroke="#000" stroke-width="0.7" stroke-dasharray="0.7 1.3"/>
<rect x="446.9" y="88.2" width="31.4" height="23.4" fill="#fff" stroke="none"/>
<path d="M447.8,110.9L448.6,109.4L449.3,107.9L450.0,106.4L450.9,103.8L451.7,101.1L452.6,98.5L453.3,96.3L454.0,94.2L454.8,92.0L455.5,94.2L456.2,96.3L456.9,98.5L457.8,101.0L458.6,103.5L459.5,105.9L460.5,107.1L461.6,108.3L462.6,109.5L463.4,110.0L464.3,110.4L465.1,110.9Z" fill="#505050" stroke="#444" stroke-width="0.3"/>
<path d="M447.5,110.9L447.8,110.7L448.2,110.4L448.5,110.2L449.3,107.9L450.1,106.2L451.0,104.1L451.9,101.1L452.9,98.2L453.8,95.6L454.6,94.4L455.4,91.2L456.2,90.0L457.3,91.4L458.4,93.1L459.5,95.6L460.2,96.9L460.9,99.2L461.7,100.8L462.5,103.0L463.3,105.4L464.2,106.8L464.9,107.6L465.6,109.5L466.4,109.8L468.3,110.0L470.1,110.2L472.0,110.4L473.9,110.5L475.8,110.6L477.7,110.7" fill="none" stroke="#000" stroke-width="1.0" stroke-linejoin="round"/>
<path d="M446.9,88.2 H478.29999999999995 V111.6" fill="none" stroke="#000" stroke-width="0.85"/>
<path d="M447.04999999999995,87.85000000000001 V111.25 H478.65" fill="none" stroke="#000" stroke-width="1.25"/>
<path d="M447.4,110.5 H478.29999999999995" fill="none" stroke="#000" stroke-width="0.9" stroke-dasharray="0.8 1.1"/>
<path d="M447.79999999999995,89.2 V111.6" fill="none" stroke="#000" stroke-width="0.7" stroke-dasharray="0.7 1.3"/>
<rect x="487.9" y="55.0" width="31.4" height="23.4" fill="#fff" stroke="none"/>
<path d="M489.2,77.7L490.0,76.7L490.8,75.6L491.7,74.5L492.6,72.0L493.6,69.5L494.5,66.9L495.2,64.2L495.9,61.5L496.5,58.8L497.1,61.7L497.6,64.5L498.1,67.4L498.7,69.7L499.3,72.0L499.8,74.3L500.7,75.2L501.5,76.0L502.3,76.8L503.3,77.1L504.2,77.4L505.2,77.7Z" fill="#505050" stroke="#444" stroke-width="0.3"/>
<path d="M488.5,77.7L488.8,77.5L489.2,77.2L489.5,77.0L490.3,76.1L491.1,74.2L492.0,72.1L493.0,69.8L494.1,66.8L495.1,63.8L496.0,61.8L496.9,59.3L497.9,55.9L498.7,59.0L499.6,61.8L500.5,63.8L501.5,65.2L502.6,66.9L503.6,67.4L504.7,67.5L505.8,68.7L506.9,69.6L507.6,69.9L508.3,69.4L509.0,68.7L510.1,70.7L511.2,72.4L512.3,73.9L513.4,75.5L514.5,75.4L515.5,77.0L516.6,77.2L517.6,77.3L518.7,77.5" fill="none" stroke="#000" stroke-width="1.0" stroke-linejoin="round"/>
<path d="M487.9,55.0 H519.3 V78.4" fill="none" stroke="#000" stroke-width="0.85"/>
<path d="M488.04999999999995,54.65 V78.05000000000001 H519.65" fill="none" stroke="#000" stroke-width="1.25"/>
<path d="M488.4,77.30000000000001 H519.3" fill="none" stroke="#000" stroke-width="0.9" stroke-dasharray="0.8 1.1"/>
<path d="M488.79999999999995,56.0 V78.4" fill="none" stroke="#000" stroke-width="0.7" stroke-dasharray="0.7 1.3"/>
<rect x="487.9" y="88.2" width="31.4" height="23.4" fill="#fff" stroke="none"/>
<path d="M488.8,110.9L489.6,109.8L490.3,108.6L491.0,107.5L492.0,104.5L492.9,101.5L493.9,98.5L494.6,96.0L495.3,93.4L496.1,90.9L496.7,93.8L497.3,96.7L497.9,99.6L498.6,102.3L499.2,104.9L499.8,107.5L500.7,108.3L501.5,109.2L502.3,110.0L503.3,110.3L504.2,110.6L505.2,110.9Z" fill="#505050" stroke="#444" stroke-width="0.3"/>
<path d="M488.5,110.9L488.8,110.7L489.2,110.4L489.5,110.2L490.3,107.6L491.1,106.5L492.0,104.6L492.8,101.9L493.7,99.7L494.5,96.3L495.2,94.7L496.0,92.0L496.7,89.5L497.5,93.3L498.4,95.8L499.2,99.6L500.1,101.3L501.1,102.7L502.0,103.0L503.1,102.9L504.1,104.2L505.2,104.8L506.2,105.9L507.3,105.8L508.3,106.4L509.4,107.7L510.4,107.6L511.4,108.2L512.5,108.0L513.5,108.7L514.6,109.8L516.0,110.1L517.3,110.4L518.7,110.7" fill="none" stroke="#000" stroke-width="1.0" stroke-linejoin="round"/>
<path d="M487.9,88.2 H519.3 V111.6" fill="none" stroke="#000" stroke-width="0.85"/>
<path d="M488.04999999999995,87.85000000000001 V111.25 H519.65" fill="none" stroke="#000" stroke-width="1.25"/>
<path d="M488.4,110.5 H519.3" fill="none" stroke="#000" stroke-width="0.9" stroke-dasharray="0.8 1.1"/>
<path d="M488.79999999999995,89.2 V111.6" fill="none" stroke="#000" stroke-width="0.7" stroke-dasharray="0.7 1.3"/>
<text x="339.40" y="69.40" font-size="5.3" text-anchor="start" fill="#000" stroke="#000" stroke-width="0.18" >18 h</text>
<text x="339.40" y="102.70" font-size="5.3" text-anchor="start" fill="#000" stroke="#000" stroke-width="0.18" >36 h</text>
<line x1="409.5" y1="119.3" x2="464" y2="119.3" stroke="#000" stroke-width="1.1"/>
<polygon points="462.6,116.5 469.3,119.3 462.6,122.1" fill="#000"/>
<text x="438.80" y="127.80" font-size="5.6" text-anchor="middle" fill="#000" stroke="#000" stroke-width="0.18" >GITR ligand</text>
<text x="212.00" y="158.80" font-size="6.3" text-anchor="middle" fill="#000" stroke="#000" stroke-width="0.18" >Medium</text>
<text x="241.90" y="158.80" font-size="6.3" text-anchor="middle" fill="#000" stroke="#000" stroke-width="0.18" >IL-2</text>
<text x="273.20" y="158.80" font-size="6.3" text-anchor="middle" fill="#000" stroke="#000" stroke-width="0.18" >IL-15</text>
<text x="303.70" y="158.80" font-size="6.3" text-anchor="middle" fill="#000" stroke="#000" stroke-width="0.18" >IL-12</text>
<text x="336.70" y="158.80" font-size="6.3" text-anchor="middle" fill="#000" stroke="#000" stroke-width="0.18" >TNF- <tspan font-weight='normal' font-size='6.6'>α</tspan></text>
<text x="369.00" y="158.80" font-size="6.3" text-anchor="middle" fill="#000" stroke="#000" stroke-width="0.18" >IFN- <tspan font-weight='normal' font-size='6.6'>α</tspan></text>
<text x="190.40" y="178.30" font-size="6.3" text-anchor="end" fill="#000" stroke="#000" stroke-width="0.18" >0 h</text>
<text x="190.40" y="203.00" font-size="6.3" text-anchor="end" fill="#000" stroke="#000" stroke-width="0.18" >8 h</text>
<text x="190.40" y="227.20" font-size="6.3" text-anchor="end" fill="#000" stroke="#000" stroke-width="0.18" >16 h</text>
<text x="190.40" y="251.00" font-size="6.3" text-anchor="end" fill="#000" stroke="#000" stroke-width="0.18" >24 h</text>
<text x="190.40" y="275.60" font-size="6.3" text-anchor="end" fill="#000" stroke="#000" stroke-width="0.18" >48 h</text>
<rect x="197.5" y="166.4" width="29.0" height="21.3" fill="#fff" stroke="#000" stroke-width="0.85"/>
<path d="M198.30,187.10 L199.00,187.10 L199.71,187.05 L200.41,186.75 L201.11,185.36 L201.81,181.35 L202.52,174.50 L203.22,168.77 L203.92,168.93 L204.62,173.33 L205.33,178.87 L206.03,182.98 L206.73,185.09 L207.43,185.94 L208.14,186.25 L208.84,186.40 L209.54,186.53 L210.24,186.66 L210.95,186.79 L211.65,186.89 L212.35,186.97 L213.05,187.02 L213.76,187.06 L214.46,187.08 L215.16,187.09 L215.86,187.10 L216.57,187.10 L217.27,187.10 L217.97,187.10 L218.67,187.10 L219.38,187.10 L220.08,187.10 L220.78,187.10 L221.48,187.10 L222.19,187.10 L222.89,187.10 L223.59,187.10 L224.29,187.10 L225.00,187.10 L225.70,187.10" fill="none" stroke="#666" stroke-width="0.55"/>
<path d="M198.30,187.06 L198.88,187.01 L199.47,186.90 L200.05,186.73 L200.63,186.38 L201.21,185.90 L201.80,185.13 L202.38,184.20 L202.96,182.71 L203.55,179.81 L204.13,175.64 L204.71,171.35 L205.30,168.89 L205.88,169.93 L206.46,173.83 L207.04,178.61 L207.63,181.59 L208.21,183.66 L208.79,184.92 L209.38,185.65 L209.96,186.10 L210.54,186.41 L211.13,186.58 L211.71,186.69 L212.29,186.77 L212.87,186.80 L213.46,186.83 L214.04,186.86 L214.62,186.90 L215.21,186.92 L215.79,186.94 L216.37,186.96 L216.96,186.98 L217.54,186.99 L218.12,187.01 L218.70,187.02 L219.29,187.04 L219.87,187.05 L220.45,187.06 L221.04,187.07 L221.62,187.07 L222.20,187.08 L222.79,187.08 L223.37,187.09 L223.95,187.09 L224.53,187.09 L225.12,187.10 L225.70,187.10 L225.70,187.10 L198.30,187.10Z" fill="#000" stroke="#000" stroke-width="0.35" stroke-linejoin="round"/>
<text x="222.50" y="172.80" font-size="4.4" text-anchor="end" fill="#000" stroke="#000" stroke-width="0.16" >6.50</text>
<rect x="197.5" y="190.1" width="29.0" height="21.3" fill="#fff" stroke="#000" stroke-width="0.85"/>
<path d="M198.30,210.80 L199.00,210.80 L199.71,210.76 L200.41,210.48 L201.11,209.20 L201.81,205.50 L202.52,199.19 L203.22,193.91 L203.92,194.05 L204.62,198.10 L205.33,203.19 L206.03,206.95 L206.73,208.88 L207.43,209.67 L208.14,209.95 L208.84,210.10 L209.54,210.23 L210.24,210.36 L210.95,210.49 L211.65,210.59 L212.35,210.67 L213.05,210.72 L213.76,210.76 L214.46,210.78 L215.16,210.79 L215.86,210.80 L216.57,210.80 L217.27,210.80 L217.97,210.80 L218.67,210.80 L219.38,210.80 L220.08,210.80 L220.78,210.80 L221.48,210.80 L222.19,210.80 L222.89,210.80 L223.59,210.80 L224.29,210.80 L225.00,210.80 L225.70,210.80" fill="none" stroke="#666" stroke-width="0.55"/>
<path d="M198.30,210.75 L198.88,210.69 L199.47,210.59 L200.05,210.39 L200.63,210.03 L201.21,209.54 L201.80,208.91 L202.38,207.92 L202.96,206.35 L203.55,203.24 L204.13,199.40 L204.71,196.45 L205.30,193.71 L205.88,194.81 L206.46,198.49 L207.04,202.20 L207.63,204.63 L208.21,206.46 L208.79,207.49 L209.38,207.91 L209.96,208.52 L210.54,208.93 L211.13,209.15 L211.71,209.46 L212.29,209.59 L212.87,209.76 L213.46,209.96 L214.04,210.09 L214.62,210.21 L215.21,210.32 L215.79,210.41 L216.37,210.50 L216.96,210.57 L217.54,210.63 L218.12,210.66 L218.70,210.71 L219.29,210.73 L219.87,210.75 L220.45,210.77 L221.04,210.78 L221.62,210.79 L222.20,210.79 L222.79,210.79 L223.37,210.80 L223.95,210.80 L224.53,210.80 L225.12,210.80 L225.70,210.80 L225.70,210.80 L198.30,210.80Z" fill="#000" stroke="#000" stroke-width="0.35" stroke-linejoin="round"/>
<text x="222.50" y="196.50" font-size="4.4" text-anchor="end" fill="#000" stroke="#000" stroke-width="0.16" >14.2</text>
<rect x="228.9" y="190.1" width="29.0" height="21.3" fill="#fff" stroke="#000" stroke-width="0.85"/>
<path d="M229.70,210.80 L230.40,210.80 L231.11,210.76 L231.81,210.49 L232.51,209.24 L233.21,205.63 L233.92,199.47 L234.62,194.32 L235.32,194.46 L236.02,198.41 L236.73,203.37 L237.43,207.03 L238.13,208.91 L238.83,209.68 L239.54,209.95 L240.24,210.10 L240.94,210.23 L241.64,210.36 L242.35,210.49 L243.05,210.59 L243.75,210.67 L244.45,210.72 L245.16,210.76 L245.86,210.78 L246.56,210.79 L247.26,210.80 L247.97,210.80 L248.67,210.80 L249.37,210.80 L250.07,210.80 L250.78,210.80 L251.48,210.80 L252.18,210.80 L252.88,210.80 L253.59,210.80 L254.29,210.80 L254.99,210.80 L255.69,210.80 L256.40,210.80 L257.10,210.80" fill="none" stroke="#666" stroke-width="0.55"/>
<path d="M229.70,210.75 L230.28,210.70 L230.87,210.58 L231.45,210.37 L232.03,210.04 L232.61,209.55 L233.20,208.79 L233.78,207.71 L234.36,205.93 L234.95,203.64 L235.53,199.37 L236.11,195.89 L236.70,194.16 L237.28,194.38 L237.86,197.50 L238.44,200.60 L239.03,203.14 L239.61,204.98 L240.19,206.48 L240.78,207.30 L241.36,207.98 L241.94,208.47 L242.53,208.82 L243.11,209.18 L243.69,209.42 L244.27,209.64 L244.86,209.78 L245.44,209.97 L246.02,210.10 L246.61,210.23 L247.19,210.38 L247.77,210.46 L248.36,210.53 L248.94,210.60 L249.52,210.66 L250.10,210.70 L250.69,210.73 L251.27,210.75 L251.85,210.77 L252.44,210.78 L253.02,210.78 L253.60,210.79 L254.19,210.79 L254.77,210.80 L255.35,210.80 L255.93,210.80 L256.52,210.80 L257.10,210.80 L257.10,210.80 L229.70,210.80Z" fill="#000" stroke="#000" stroke-width="0.35" stroke-linejoin="round"/>
<text x="253.90" y="196.50" font-size="4.4" text-anchor="end" fill="#000" stroke="#000" stroke-width="0.16" >22.3</text>
<rect x="260.5" y="190.1" width="29.0" height="21.3" fill="#fff" stroke="#000" stroke-width="0.85"/>
<path d="M261.30,210.80 L262.00,210.80 L262.71,210.76 L263.41,210.49 L264.11,209.24 L264.81,205.63 L265.52,199.47 L266.22,194.32 L266.92,194.46 L267.62,198.41 L268.33,203.37 L269.03,207.03 L269.73,208.91 L270.43,209.68 L271.14,209.95 L271.84,210.10 L272.54,210.23 L273.24,210.36 L273.95,210.49 L274.65,210.59 L275.35,210.67 L276.05,210.72 L276.76,210.76 L277.46,210.78 L278.16,210.79 L278.86,210.80 L279.57,210.80 L280.27,210.80 L280.97,210.80 L281.67,210.80 L282.38,210.80 L283.08,210.80 L283.78,210.80 L284.48,210.80 L285.19,210.80 L285.89,210.80 L286.59,210.80 L287.29,210.80 L288.00,210.80 L288.70,210.80" fill="none" stroke="#666" stroke-width="0.55"/>
<path d="M261.30,210.75 L261.88,210.70 L262.47,210.57 L263.05,210.38 L263.63,210.04 L264.21,209.47 L264.80,208.73 L265.38,207.84 L265.96,206.10 L266.55,203.34 L267.13,199.63 L267.71,196.00 L268.30,194.13 L268.88,194.52 L269.46,198.23 L270.04,200.73 L270.63,203.52 L271.21,205.63 L271.79,206.70 L272.38,207.47 L272.96,208.14 L273.54,208.73 L274.13,208.92 L274.71,209.26 L275.29,209.48 L275.87,209.78 L276.46,209.93 L277.04,210.10 L277.62,210.18 L278.21,210.32 L278.79,210.42 L279.37,210.50 L279.96,210.56 L280.54,210.62 L281.12,210.67 L281.70,210.71 L282.29,210.73 L282.87,210.75 L283.45,210.77 L284.04,210.78 L284.62,210.79 L285.20,210.79 L285.79,210.79 L286.37,210.80 L286.95,210.80 L287.53,210.80 L288.12,210.80 L288.70,210.80 L288.70,210.80 L261.30,210.80Z" fill="#000" stroke="#000" stroke-width="0.35" stroke-linejoin="round"/>
<text x="285.50" y="196.50" font-size="4.4" text-anchor="end" fill="#000" stroke="#000" stroke-width="0.16" >16.6</text>
<rect x="291.8" y="190.1" width="29.0" height="21.3" fill="#fff" stroke="#000" stroke-width="0.85"/>
<path d="M292.60,210.80 L293.30,210.80 L294.01,210.76 L294.71,210.49 L295.41,209.24 L296.11,205.63 L296.82,199.47 L297.52,194.32 L298.22,194.46 L298.92,198.41 L299.63,203.37 L300.33,207.03 L301.03,208.91 L301.73,209.68 L302.44,209.95 L303.14,210.10 L303.84,210.23 L304.54,210.36 L305.25,210.49 L305.95,210.59 L306.65,210.67 L307.35,210.72 L308.06,210.76 L308.76,210.78 L309.46,210.79 L310.16,210.80 L310.87,210.80 L311.57,210.80 L312.27,210.80 L312.97,210.80 L313.68,210.80 L314.38,210.80 L315.08,210.80 L315.78,210.80 L316.49,210.80 L317.19,210.80 L317.89,210.80 L318.59,210.80 L319.30,210.80 L320.00,210.80" fill="none" stroke="#666" stroke-width="0.55"/>
<path d="M292.60,210.75 L293.18,210.70 L293.77,210.57 L294.35,210.38 L294.93,210.06 L295.51,209.53 L296.10,208.71 L296.68,207.80 L297.26,206.25 L297.85,203.33 L298.43,199.75 L299.01,196.13 L299.60,194.40 L300.18,195.59 L300.76,197.99 L301.34,200.97 L301.93,203.62 L302.51,205.23 L303.09,206.72 L303.68,207.51 L304.26,208.23 L304.84,208.66 L305.43,209.09 L306.01,209.34 L306.59,209.60 L307.17,209.72 L307.76,209.91 L308.34,210.08 L308.92,210.19 L309.51,210.29 L310.09,210.42 L310.67,210.48 L311.26,210.57 L311.84,210.62 L312.42,210.67 L313.00,210.71 L313.59,210.73 L314.17,210.75 L314.75,210.77 L315.34,210.78 L315.92,210.79 L316.50,210.79 L317.09,210.79 L317.67,210.80 L318.25,210.80 L318.83,210.80 L319.42,210.80 L320.00,210.80 L320.00,210.80 L292.60,210.80Z" fill="#000" stroke="#000" stroke-width="0.35" stroke-linejoin="round"/>
<text x="316.80" y="196.50" font-size="4.4" text-anchor="end" fill="#000" stroke="#000" stroke-width="0.16" >16.2</text>
<rect x="323.6" y="190.1" width="29.0" height="21.3" fill="#fff" stroke="#000" stroke-width="0.85"/>
<path d="M324.40,210.80 L325.10,210.79 L325.81,210.70 L326.51,210.17 L327.21,208.12 L327.91,203.25 L328.62,196.69 L329.32,193.31 L330.02,195.31 L330.72,200.13 L331.43,204.89 L332.13,207.90 L332.83,209.28 L333.53,209.81 L334.24,210.02 L334.94,210.15 L335.64,210.28 L336.34,210.41 L337.05,210.53 L337.75,210.62 L338.45,210.69 L339.15,210.74 L339.86,210.77 L340.56,210.78 L341.26,210.79 L341.96,210.80 L342.67,210.80 L343.37,210.80 L344.07,210.80 L344.77,210.80 L345.48,210.80 L346.18,210.80 L346.88,210.80 L347.58,210.80 L348.29,210.80 L348.99,210.80 L349.69,210.80 L350.39,210.80 L351.10,210.80 L351.80,210.80" fill="none" stroke="#666" stroke-width="0.55"/>
<path d="M324.40,210.69 L324.98,210.58 L325.57,210.38 L326.15,210.05 L326.73,209.44 L327.31,208.64 L327.90,207.56 L328.48,206.00 L329.06,203.27 L329.65,199.22 L330.23,194.79 L330.81,193.31 L331.40,194.00 L331.98,197.55 L332.56,200.48 L333.14,203.46 L333.73,205.58 L334.31,206.85 L334.89,207.40 L335.48,208.18 L336.06,208.59 L336.64,208.98 L337.23,209.17 L337.81,209.37 L338.39,209.56 L338.97,209.77 L339.56,209.91 L340.14,210.09 L340.72,210.21 L341.31,210.34 L341.89,210.43 L342.47,210.52 L343.06,210.59 L343.64,210.64 L344.22,210.69 L344.80,210.72 L345.39,210.74 L345.97,210.76 L346.55,210.77 L347.14,210.78 L347.72,210.79 L348.30,210.79 L348.89,210.80 L349.47,210.80 L350.05,210.80 L350.63,210.80 L351.22,210.80 L351.80,210.80 L351.80,210.80 L324.40,210.80Z" fill="#000" stroke="#000" stroke-width="0.35" stroke-linejoin="round"/>
<text x="348.60" y="196.50" font-size="4.4" text-anchor="end" fill="#000" stroke="#000" stroke-width="0.16" >19.1</text>
<rect x="355.5" y="190.1" width="29.0" height="21.3" fill="#fff" stroke="#000" stroke-width="0.85"/>
<path d="M356.30,210.80 L357.00,210.79 L357.71,210.70 L358.41,210.17 L359.11,208.12 L359.81,203.25 L360.52,196.69 L361.22,193.31 L361.92,195.31 L362.62,200.13 L363.33,204.89 L364.03,207.90 L364.73,209.28 L365.43,209.81 L366.14,210.02 L366.84,210.15 L367.54,210.28 L368.24,210.41 L368.95,210.53 L369.65,210.62 L370.35,210.69 L371.05,210.74 L371.76,210.77 L372.46,210.78 L373.16,210.79 L373.86,210.80 L374.57,210.80 L375.27,210.80 L375.97,210.80 L376.67,210.80 L377.38,210.80 L378.08,210.80 L378.78,210.80 L379.48,210.80 L380.19,210.80 L380.89,210.80 L381.59,210.80 L382.29,210.80 L383.00,210.80 L383.70,210.80" fill="none" stroke="#666" stroke-width="0.55"/>
<path d="M356.30,210.67 L356.88,210.53 L357.47,210.29 L358.05,209.89 L358.63,209.29 L359.21,208.58 L359.80,207.27 L360.38,205.35 L360.96,201.93 L361.55,197.53 L362.13,193.44 L362.71,192.61 L363.30,193.99 L363.88,197.99 L364.46,201.65 L365.04,204.62 L365.63,206.30 L366.21,207.27 L366.79,207.91 L367.38,208.50 L367.96,208.73 L368.54,209.09 L369.13,209.32 L369.71,209.52 L370.29,209.69 L370.87,209.87 L371.46,210.06 L372.04,210.14 L372.62,210.26 L373.21,210.38 L373.79,210.47 L374.37,210.55 L374.96,210.62 L375.54,210.66 L376.12,210.70 L376.70,210.73 L377.29,210.75 L377.87,210.77 L378.45,210.78 L379.04,210.79 L379.62,210.79 L380.20,210.79 L380.79,210.80 L381.37,210.80 L381.95,210.80 L382.53,210.80 L383.12,210.80 L383.70,210.80 L383.70,210.80 L356.30,210.80Z" fill="#000" stroke="#000" stroke-width="0.35" stroke-linejoin="round"/>
<text x="380.50" y="196.50" font-size="4.4" text-anchor="end" fill="#000" stroke="#000" stroke-width="0.16" >18.0</text>
<rect x="197.5" y="214.0" width="29.0" height="21.3" fill="#fff" stroke="#000" stroke-width="0.85"/>
<path d="M198.30,234.70 L199.00,234.70 L199.71,234.66 L200.41,234.37 L201.11,233.06 L201.81,229.27 L202.52,222.80 L203.22,217.40 L203.92,217.55 L204.62,221.69 L205.33,226.91 L206.03,230.78 L206.73,232.75 L207.43,233.56 L208.14,233.85 L208.84,234.00 L209.54,234.13 L210.24,234.26 L210.95,234.39 L211.65,234.49 L212.35,234.57 L213.05,234.62 L213.76,234.66 L214.46,234.68 L215.16,234.69 L215.86,234.70 L216.57,234.70 L217.27,234.70 L217.97,234.70 L218.67,234.70 L219.38,234.70 L220.08,234.70 L220.78,234.70 L221.48,234.70 L222.19,234.70 L222.89,234.70 L223.59,234.70 L224.29,234.70 L225.00,234.70 L225.70,234.70" fill="none" stroke="#666" stroke-width="0.55"/>
<path d="M198.30,234.68 L198.88,234.66 L199.47,234.62 L200.05,234.55 L200.63,234.43 L201.21,234.23 L201.80,233.98 L202.38,233.59 L202.96,233.02 L203.55,232.15 L204.13,230.93 L204.71,229.04 L205.30,226.74 L205.88,223.85 L206.46,222.25 L207.04,222.20 L207.63,223.32 L208.21,223.69 L208.79,225.88 L209.38,226.76 L209.96,228.24 L210.54,229.93 L211.13,230.64 L211.71,231.22 L212.29,231.75 L212.87,232.34 L213.46,232.74 L214.04,233.06 L214.62,233.21 L215.21,233.53 L215.79,233.68 L216.37,233.88 L216.96,233.99 L217.54,234.08 L218.12,234.22 L218.70,234.28 L219.29,234.36 L219.87,234.41 L220.45,234.47 L221.04,234.52 L221.62,234.55 L222.20,234.58 L222.79,234.61 L223.37,234.63 L223.95,234.64 L224.53,234.66 L225.12,234.67 L225.70,234.68 L225.70,234.70 L198.30,234.70Z" fill="#000" stroke="#000" stroke-width="0.35" stroke-linejoin="round"/>
<text x="222.50" y="220.40" font-size="4.4" text-anchor="end" fill="#000" stroke="#000" stroke-width="0.16" >24.5</text>
<rect x="228.9" y="214.0" width="29.0" height="21.3" fill="#fff" stroke="#000" stroke-width="0.85"/>
<path d="M229.70,234.69 L230.40,234.64 L231.11,234.25 L231.81,232.63 L232.51,228.32 L233.21,221.65 L233.92,217.00 L234.62,218.04 L235.32,222.59 L236.02,227.71 L236.73,231.23 L237.43,232.95 L238.13,233.63 L238.83,233.88 L239.54,234.02 L240.24,234.15 L240.94,234.29 L241.64,234.41 L242.35,234.50 L243.05,234.58 L243.75,234.63 L244.45,234.66 L245.16,234.68 L245.86,234.69 L246.56,234.70 L247.26,234.70 L247.97,234.70 L248.67,234.70 L249.37,234.70 L250.07,234.70 L250.78,234.70 L251.48,234.70 L252.18,234.70 L252.88,234.70 L253.59,234.70 L254.29,234.70 L254.99,234.70 L255.69,234.70 L256.40,234.70 L257.10,234.70" fill="none" stroke="#666" stroke-width="0.55"/>
<path d="M229.70,234.70 L230.28,234.69 L230.87,234.69 L231.45,234.67 L232.03,234.65 L232.61,234.60 L233.20,234.53 L233.78,234.39 L234.36,234.20 L234.95,233.90 L235.53,233.57 L236.11,233.06 L236.70,232.38 L237.28,231.23 L237.86,229.93 L238.44,227.97 L239.03,225.20 L239.61,222.56 L240.19,220.97 L240.78,220.69 L241.36,221.06 L241.94,224.10 L242.53,226.04 L243.11,228.70 L243.69,230.21 L244.27,231.20 L244.86,232.05 L245.44,232.55 L246.02,232.85 L246.61,233.19 L247.19,233.45 L247.77,233.66 L248.36,233.78 L248.94,233.90 L249.52,234.02 L250.10,234.09 L250.69,234.21 L251.27,234.24 L251.85,234.31 L252.44,234.36 L253.02,234.41 L253.60,234.47 L254.19,234.51 L254.77,234.53 L255.35,234.57 L255.93,234.60 L256.52,234.62 L257.10,234.64 L257.10,234.70 L229.70,234.70Z" fill="#000" stroke="#000" stroke-width="0.35" stroke-linejoin="round"/>
<text x="253.90" y="220.40" font-size="4.4" text-anchor="end" fill="#000" stroke="#000" stroke-width="0.16" >40.6</text>
<rect x="260.5" y="214.0" width="29.0" height="21.3" fill="#fff" stroke="#000" stroke-width="0.85"/>
<path d="M261.30,234.70 L262.00,234.69 L262.71,234.60 L263.41,234.05 L264.11,231.95 L264.81,226.96 L265.52,220.24 L266.22,216.78 L266.92,218.84 L267.62,223.77 L268.33,228.65 L269.03,231.74 L269.73,233.16 L270.43,233.71 L271.14,233.91 L271.84,234.05 L272.54,234.18 L273.24,234.31 L273.95,234.43 L274.65,234.52 L275.35,234.59 L276.05,234.64 L276.76,234.67 L277.46,234.68 L278.16,234.69 L278.86,234.70 L279.57,234.70 L280.27,234.70 L280.97,234.70 L281.67,234.70 L282.38,234.70 L283.08,234.70 L283.78,234.70 L284.48,234.70 L285.19,234.70 L285.89,234.70 L286.59,234.70 L287.29,234.70 L288.00,234.70 L288.70,234.70" fill="none" stroke="#666" stroke-width="0.55"/>
<path d="M261.30,234.70 L261.88,234.69 L262.47,234.69 L263.05,234.67 L263.63,234.65 L264.21,234.60 L264.80,234.52 L265.38,234.40 L265.96,234.21 L266.55,233.93 L267.13,233.47 L267.71,232.99 L268.30,232.35 L268.88,231.16 L269.46,229.59 L270.04,227.71 L270.63,225.20 L271.21,222.31 L271.79,220.51 L272.38,219.93 L272.96,221.68 L273.54,223.85 L274.13,226.39 L274.71,228.34 L275.29,229.82 L275.87,231.04 L276.46,231.94 L277.04,232.50 L277.62,232.91 L278.21,233.25 L278.79,233.50 L279.37,233.71 L279.96,233.83 L280.54,233.89 L281.12,234.05 L281.70,234.11 L282.29,234.17 L282.87,234.23 L283.45,234.32 L284.04,234.37 L284.62,234.42 L285.20,234.47 L285.79,234.51 L286.37,234.53 L286.95,234.57 L287.53,234.59 L288.12,234.62 L288.70,234.64 L288.70,234.70 L261.30,234.70Z" fill="#000" stroke="#000" stroke-width="0.35" stroke-linejoin="round"/>
<text x="285.50" y="220.40" font-size="4.4" text-anchor="end" fill="#000" stroke="#000" stroke-width="0.16" >42.1</text>
<rect x="291.8" y="214.0" width="29.0" height="21.3" fill="#fff" stroke="#000" stroke-width="0.85"/>
<path d="M292.60,234.69 L293.30,234.64 L294.01,234.25 L294.71,232.63 L295.41,228.32 L296.11,221.65 L296.82,217.00 L297.52,218.04 L298.22,222.59 L298.92,227.71 L299.63,231.23 L300.33,232.95 L301.03,233.63 L301.73,233.88 L302.44,234.02 L303.14,234.15 L303.84,234.29 L304.54,234.41 L305.25,234.50 L305.95,234.58 L306.65,234.63 L307.35,234.66 L308.06,234.68 L308.76,234.69 L309.46,234.70 L310.16,234.70 L310.87,234.70 L311.57,234.70 L312.27,234.70 L312.97,234.70 L313.68,234.70 L314.38,234.70 L315.08,234.70 L315.78,234.70 L316.49,234.70 L317.19,234.70 L317.89,234.70 L318.59,234.70 L319.30,234.70 L320.00,234.70" fill="none" stroke="#666" stroke-width="0.55"/>
<path d="M292.60,234.69 L293.18,234.68 L293.77,234.66 L294.35,234.62 L294.93,234.56 L295.51,234.45 L296.10,234.27 L296.68,234.02 L297.26,233.68 L297.85,233.20 L298.43,232.73 L299.01,231.97 L299.60,230.78 L300.18,228.82 L300.76,226.27 L301.34,223.35 L301.93,221.64 L302.51,221.30 L303.09,221.92 L303.68,223.83 L304.26,225.62 L304.84,227.85 L305.43,228.92 L306.01,230.43 L306.59,231.08 L307.17,231.86 L307.76,232.45 L308.34,232.87 L308.92,233.16 L309.51,233.37 L310.09,233.58 L310.67,233.81 L311.26,233.95 L311.84,234.03 L312.42,234.13 L313.00,234.22 L313.59,234.30 L314.17,234.35 L314.75,234.42 L315.34,234.46 L315.92,234.50 L316.50,234.53 L317.09,234.56 L317.67,234.59 L318.25,234.62 L318.83,234.64 L319.42,234.65 L320.00,234.66 L320.00,234.70 L292.60,234.70Z" fill="#000" stroke="#000" stroke-width="0.35" stroke-linejoin="round"/>
<text x="316.80" y="220.40" font-size="4.4" text-anchor="end" fill="#000" stroke="#000" stroke-width="0.16" >32.8</text>
<rect x="323.6" y="214.0" width="29.0" height="21.3" fill="#fff" stroke="#000" stroke-width="0.85"/>
<path d="M324.40,234.69 L325.10,234.64 L325.81,234.25 L326.51,232.63 L327.21,228.32 L327.91,221.65 L328.62,217.00 L329.32,218.04 L330.02,222.59 L330.72,227.71 L331.43,231.23 L332.13,232.95 L332.83,233.63 L333.53,233.88 L334.24,234.02 L334.94,234.15 L335.64,234.29 L336.34,234.41 L337.05,234.50 L337.75,234.58 L338.45,234.63 L339.15,234.66 L339.86,234.68 L340.56,234.69 L341.26,234.70 L341.96,234.70 L342.67,234.70 L343.37,234.70 L344.07,234.70 L344.77,234.70 L345.48,234.70 L346.18,234.70 L346.88,234.70 L347.58,234.70 L348.29,234.70 L348.99,234.70 L349.69,234.70 L350.39,234.70 L351.10,234.70 L351.80,234.70" fill="none" stroke="#666" stroke-width="0.55"/>
<path d="M324.40,234.69 L324.98,234.68 L325.57,234.67 L326.15,234.64 L326.73,234.59 L327.31,234.51 L327.90,234.38 L328.48,234.17 L329.06,233.86 L329.65,233.55 L330.23,233.09 L330.81,232.36 L331.40,231.36 L331.98,229.76 L332.56,227.95 L333.14,224.90 L333.73,222.58 L334.31,221.70 L334.89,222.36 L335.48,222.63 L336.06,225.10 L336.64,226.54 L337.23,228.65 L337.81,229.97 L338.39,230.78 L338.97,231.70 L339.56,232.10 L340.14,232.65 L340.72,233.05 L341.31,233.32 L341.89,233.52 L342.47,233.68 L343.06,233.82 L343.64,234.01 L344.22,234.09 L344.80,234.19 L345.39,234.23 L345.97,234.34 L346.55,234.40 L347.14,234.45 L347.72,234.48 L348.30,234.51 L348.89,234.55 L349.47,234.58 L350.05,234.60 L350.63,234.62 L351.22,234.64 L351.80,234.66 L351.80,234.70 L324.40,234.70Z" fill="#000" stroke="#000" stroke-width="0.35" stroke-linejoin="round"/>
<text x="348.60" y="220.40" font-size="4.4" text-anchor="end" fill="#000" stroke="#000" stroke-width="0.16" >40.6</text>
<rect x="355.5" y="213.6" width="29.0" height="21.3" fill="#fff" stroke="#000" stroke-width="0.85"/>
<path d="M356.30,234.29 L357.00,234.23 L357.71,233.83 L358.41,232.13 L359.11,227.61 L359.81,220.63 L360.52,215.76 L361.22,216.85 L361.92,221.63 L362.62,226.99 L363.33,230.70 L364.03,232.51 L364.73,233.22 L365.43,233.48 L366.14,233.62 L366.84,233.75 L367.54,233.89 L368.24,234.01 L368.95,234.10 L369.65,234.18 L370.35,234.23 L371.05,234.26 L371.76,234.28 L372.46,234.29 L373.16,234.30 L373.86,234.30 L374.57,234.30 L375.27,234.30 L375.97,234.30 L376.67,234.30 L377.38,234.30 L378.08,234.30 L378.78,234.30 L379.48,234.30 L380.19,234.30 L380.89,234.30 L381.59,234.30 L382.29,234.30 L383.00,234.30 L383.70,234.30" fill="none" stroke="#666" stroke-width="0.55"/>
<path d="M356.30,234.25 L356.88,234.20 L357.47,234.14 L358.05,234.01 L358.63,233.84 L359.21,233.59 L359.80,233.25 L360.38,232.81 L360.96,232.24 L361.55,231.31 L362.13,229.97 L362.71,227.68 L363.30,225.87 L363.88,222.66 L364.46,222.15 L365.04,221.89 L365.63,221.86 L366.21,222.85 L366.79,224.52 L367.38,226.19 L367.96,227.16 L368.54,228.44 L369.13,229.19 L369.71,230.34 L370.29,230.92 L370.87,231.29 L371.46,231.96 L372.04,232.23 L372.62,232.47 L373.21,232.77 L373.79,233.10 L374.37,233.30 L374.96,233.47 L375.54,233.55 L376.12,233.73 L376.70,233.81 L377.29,233.90 L377.87,233.99 L378.45,234.05 L379.04,234.09 L379.62,234.14 L380.20,234.18 L380.79,234.20 L381.37,234.23 L381.95,234.24 L382.53,234.26 L383.12,234.27 L383.70,234.27 L383.70,234.30 L356.30,234.30Z" fill="#000" stroke="#000" stroke-width="0.35" stroke-linejoin="round"/>
<text x="380.50" y="220.00" font-size="4.4" text-anchor="end" fill="#000" stroke="#000" stroke-width="0.16" >28.6</text>
<rect x="197.5" y="237.9" width="29.0" height="21.3" fill="#fff" stroke="#000" stroke-width="0.85"/>
<path d="M198.30,258.60 L199.00,258.60 L199.71,258.55 L200.41,258.26 L201.11,256.88 L201.81,252.92 L202.52,246.14 L203.22,240.48 L203.92,240.63 L204.62,244.98 L205.33,250.46 L206.03,254.52 L206.73,256.60 L207.43,257.45 L208.14,257.75 L208.84,257.90 L209.54,258.03 L210.24,258.16 L210.95,258.29 L211.65,258.39 L212.35,258.47 L213.05,258.52 L213.76,258.56 L214.46,258.58 L215.16,258.59 L215.86,258.60 L216.57,258.60 L217.27,258.60 L217.97,258.60 L218.67,258.60 L219.38,258.60 L220.08,258.60 L220.78,258.60 L221.48,258.60 L222.19,258.60 L222.89,258.60 L223.59,258.60 L224.29,258.60 L225.00,258.60 L225.70,258.60" fill="none" stroke="#666" stroke-width="0.55"/>
<path d="M198.30,258.60 L198.88,258.60 L199.47,258.60 L200.05,258.60 L200.63,258.60 L201.21,258.59 L201.80,258.54 L202.38,258.36 L202.96,257.85 L203.55,256.65 L204.13,254.60 L204.71,251.77 L205.30,250.20 L205.88,248.78 L206.46,249.04 L207.04,249.03 L207.63,248.31 L208.21,247.83 L208.79,248.68 L209.38,249.69 L209.96,251.02 L210.54,252.31 L211.13,254.17 L211.71,255.29 L212.29,256.02 L212.87,256.73 L213.46,257.10 L214.04,257.30 L214.62,257.35 L215.21,257.47 L215.79,257.47 L216.37,257.56 L216.96,257.63 L217.54,257.78 L218.12,257.87 L218.70,257.95 L219.29,258.00 L219.87,258.07 L220.45,258.15 L221.04,258.23 L221.62,258.28 L222.20,258.33 L222.79,258.37 L223.37,258.41 L223.95,258.45 L224.53,258.48 L225.12,258.51 L225.70,258.53 L225.70,258.60 L198.30,258.60Z" fill="#000" stroke="#000" stroke-width="0.35" stroke-linejoin="round"/>
<text x="222.50" y="244.30" font-size="4.4" text-anchor="end" fill="#000" stroke="#000" stroke-width="0.16" >34.3</text>
<rect x="228.9" y="237.9" width="29.0" height="21.3" fill="#fff" stroke="#000" stroke-width="0.85"/>
<path d="M229.70,258.59 L230.40,258.54 L231.11,258.14 L231.81,256.48 L232.51,252.07 L233.21,245.24 L233.92,240.48 L234.62,241.55 L235.32,246.21 L236.02,251.45 L236.73,255.07 L237.43,256.83 L238.13,257.53 L238.83,257.78 L239.54,257.92 L240.24,258.05 L240.94,258.19 L241.64,258.31 L242.35,258.40 L243.05,258.48 L243.75,258.53 L244.45,258.56 L245.16,258.58 L245.86,258.59 L246.56,258.60 L247.26,258.60 L247.97,258.60 L248.67,258.60 L249.37,258.60 L250.07,258.60 L250.78,258.60 L251.48,258.60 L252.18,258.60 L252.88,258.60 L253.59,258.60 L254.29,258.60 L254.99,258.60 L255.69,258.60 L256.40,258.60 L257.10,258.60" fill="none" stroke="#666" stroke-width="0.55"/>
<path d="M229.70,258.60 L230.28,258.60 L230.87,258.60 L231.45,258.60 L232.03,258.60 L232.61,258.60 L233.20,258.59 L233.78,258.58 L234.36,258.55 L234.95,258.49 L235.53,258.38 L236.11,258.19 L236.70,257.83 L237.28,257.39 L237.86,256.76 L238.44,255.63 L239.03,254.07 L239.61,251.22 L240.19,248.54 L240.78,245.14 L241.36,243.86 L241.94,245.20 L242.53,247.71 L243.11,251.17 L243.69,253.06 L244.27,254.57 L244.86,255.48 L245.44,255.94 L246.02,256.53 L246.61,256.83 L247.19,257.19 L247.77,257.32 L248.36,257.52 L248.94,257.66 L249.52,257.71 L250.10,257.79 L250.69,257.94 L251.27,257.98 L251.85,258.06 L252.44,258.15 L253.02,258.21 L253.60,258.27 L254.19,258.32 L254.77,258.37 L255.35,258.40 L255.93,258.44 L256.52,258.48 L257.10,258.50 L257.10,258.60 L229.70,258.60Z" fill="#000" stroke="#000" stroke-width="0.35" stroke-linejoin="round"/>
<text x="253.90" y="244.30" font-size="4.4" text-anchor="end" fill="#000" stroke="#000" stroke-width="0.16" >69.9</text>
<rect x="260.5" y="237.9" width="29.0" height="21.3" fill="#fff" stroke="#000" stroke-width="0.85"/>
<path d="M261.30,258.60 L262.00,258.59 L262.71,258.50 L263.41,257.94 L264.11,255.79 L264.81,250.68 L265.52,243.80 L266.22,240.26 L266.92,242.36 L267.62,247.42 L268.33,252.42 L269.03,255.59 L269.73,257.05 L270.43,257.60 L271.14,257.81 L271.84,257.95 L272.54,258.08 L273.24,258.21 L273.95,258.33 L274.65,258.42 L275.35,258.49 L276.05,258.54 L276.76,258.57 L277.46,258.58 L278.16,258.59 L278.86,258.60 L279.57,258.60 L280.27,258.60 L280.97,258.60 L281.67,258.60 L282.38,258.60 L283.08,258.60 L283.78,258.60 L284.48,258.60 L285.19,258.60 L285.89,258.60 L286.59,258.60 L287.29,258.60 L288.00,258.60 L288.70,258.60" fill="none" stroke="#666" stroke-width="0.55"/>
<path d="M261.30,258.60 L261.88,258.60 L262.47,258.60 L263.05,258.60 L263.63,258.60 L264.21,258.60 L264.80,258.59 L265.38,258.58 L265.96,258.56 L266.55,258.51 L267.13,258.41 L267.71,258.24 L268.30,257.98 L268.88,257.56 L269.46,256.86 L270.04,256.02 L270.63,254.67 L271.21,252.39 L271.79,248.53 L272.38,245.91 L272.96,244.17 L273.54,245.38 L274.13,247.60 L274.71,249.91 L275.29,252.21 L275.87,254.18 L276.46,255.29 L277.04,255.86 L277.62,256.51 L278.21,256.92 L278.79,257.05 L279.37,257.33 L279.96,257.45 L280.54,257.62 L281.12,257.68 L281.70,257.81 L282.29,257.91 L282.87,258.00 L283.45,258.04 L284.04,258.11 L284.62,258.17 L285.20,258.26 L285.79,258.30 L286.37,258.36 L286.95,258.40 L287.53,258.44 L288.12,258.47 L288.70,258.49 L288.70,258.60 L261.30,258.60Z" fill="#000" stroke="#000" stroke-width="0.35" stroke-linejoin="round"/>
<text x="285.50" y="244.30" font-size="4.4" text-anchor="end" fill="#000" stroke="#000" stroke-width="0.16" >79.2</text>
<rect x="291.8" y="237.9" width="29.0" height="21.3" fill="#fff" stroke="#000" stroke-width="0.85"/>
<path d="M292.60,258.59 L293.30,258.54 L294.01,258.15 L294.71,256.53 L295.41,252.22 L296.11,245.55 L296.82,240.90 L297.52,241.94 L298.22,246.49 L298.92,251.61 L299.63,255.13 L300.33,256.85 L301.03,257.53 L301.73,257.78 L302.44,257.92 L303.14,258.05 L303.84,258.19 L304.54,258.31 L305.25,258.40 L305.95,258.48 L306.65,258.53 L307.35,258.56 L308.06,258.58 L308.76,258.59 L309.46,258.60 L310.16,258.60 L310.87,258.60 L311.57,258.60 L312.27,258.60 L312.97,258.60 L313.68,258.60 L314.38,258.60 L315.08,258.60 L315.78,258.60 L316.49,258.60 L317.19,258.60 L317.89,258.60 L318.59,258.60 L319.30,258.60 L320.00,258.60" fill="none" stroke="#666" stroke-width="0.55"/>
<path d="M292.60,258.60 L293.18,258.59 L293.77,258.59 L294.35,258.58 L294.93,258.55 L295.51,258.52 L296.10,258.45 L296.68,258.32 L297.26,258.15 L297.85,257.92 L298.43,257.63 L299.01,257.07 L299.60,256.55 L300.18,255.57 L300.76,254.38 L301.34,252.37 L301.93,250.43 L302.51,247.29 L303.09,246.22 L303.68,245.74 L304.26,246.19 L304.84,248.04 L305.43,250.65 L306.01,252.40 L306.59,253.70 L307.17,254.72 L307.76,255.54 L308.34,256.16 L308.92,256.55 L309.51,256.80 L310.09,257.06 L310.67,257.39 L311.26,257.51 L311.84,257.64 L312.42,257.82 L313.00,257.87 L313.59,258.01 L314.17,258.06 L314.75,258.14 L315.34,258.20 L315.92,258.28 L316.50,258.33 L317.09,258.37 L317.67,258.41 L318.25,258.45 L318.83,258.48 L319.42,258.50 L320.00,258.53 L320.00,258.60 L292.60,258.60Z" fill="#000" stroke="#000" stroke-width="0.35" stroke-linejoin="round"/>
<text x="316.80" y="244.30" font-size="4.4" text-anchor="end" fill="#000" stroke="#000" stroke-width="0.16" >48.3</text>
<rect x="323.6" y="237.9" width="29.0" height="21.3" fill="#fff" stroke="#000" stroke-width="0.85"/>
<path d="M324.40,258.59 L325.10,258.54 L325.81,258.15 L326.51,256.53 L327.21,252.22 L327.91,245.55 L328.62,240.90 L329.32,241.94 L330.02,246.49 L330.72,251.61 L331.43,255.13 L332.13,256.85 L332.83,257.53 L333.53,257.78 L334.24,257.92 L334.94,258.05 L335.64,258.19 L336.34,258.31 L337.05,258.40 L337.75,258.48 L338.45,258.53 L339.15,258.56 L339.86,258.58 L340.56,258.59 L341.26,258.60 L341.96,258.60 L342.67,258.60 L343.37,258.60 L344.07,258.60 L344.77,258.60 L345.48,258.60 L346.18,258.60 L346.88,258.60 L347.58,258.60 L348.29,258.60 L348.99,258.60 L349.69,258.60 L350.39,258.60 L351.10,258.60 L351.80,258.60" fill="none" stroke="#666" stroke-width="0.55"/>
<path d="M324.40,258.59 L324.98,258.57 L325.57,258.55 L326.15,258.51 L326.73,258.45 L327.31,258.36 L327.90,258.24 L328.48,258.03 L329.06,257.80 L329.65,257.46 L330.23,256.98 L330.81,256.47 L331.40,255.57 L331.98,254.35 L332.56,252.94 L333.14,250.42 L333.73,248.70 L334.31,246.26 L334.89,245.61 L335.48,246.38 L336.06,248.03 L336.64,249.08 L337.23,250.83 L337.81,251.96 L338.39,253.69 L338.97,254.36 L339.56,255.09 L340.14,255.76 L340.72,256.20 L341.31,256.70 L341.89,256.87 L342.47,257.21 L343.06,257.37 L343.64,257.56 L344.22,257.78 L344.80,257.86 L345.39,257.97 L345.97,258.11 L346.55,258.18 L347.14,258.23 L347.72,258.31 L348.30,258.34 L348.89,258.40 L349.47,258.43 L350.05,258.47 L350.63,258.50 L351.22,258.52 L351.80,258.54 L351.80,258.60 L324.40,258.60Z" fill="#000" stroke="#000" stroke-width="0.35" stroke-linejoin="round"/>
<text x="348.60" y="244.30" font-size="4.4" text-anchor="end" fill="#000" stroke="#000" stroke-width="0.16" >50.8</text>
<rect x="355.5" y="236.9" width="29.0" height="21.3" fill="#fff" stroke="#000" stroke-width="0.85"/>
<path d="M356.30,257.59 L357.00,257.54 L357.71,257.15 L358.41,255.53 L359.11,251.22 L359.81,244.55 L360.52,239.90 L361.22,240.94 L361.92,245.49 L362.62,250.61 L363.33,254.13 L364.03,255.85 L364.73,256.53 L365.43,256.78 L366.14,256.92 L366.84,257.05 L367.54,257.19 L368.24,257.31 L368.95,257.40 L369.65,257.48 L370.35,257.53 L371.05,257.56 L371.76,257.58 L372.46,257.59 L373.16,257.60 L373.86,257.60 L374.57,257.60 L375.27,257.60 L375.97,257.60 L376.67,257.60 L377.38,257.60 L378.08,257.60 L378.78,257.60 L379.48,257.60 L380.19,257.60 L380.89,257.60 L381.59,257.60 L382.29,257.60 L383.00,257.60 L383.70,257.60" fill="none" stroke="#666" stroke-width="0.55"/>
<path d="M356.30,257.55 L356.88,257.51 L357.47,257.44 L358.05,257.33 L358.63,257.16 L359.21,256.91 L359.80,256.50 L360.38,256.06 L360.96,255.39 L361.55,254.69 L362.13,253.16 L362.71,251.61 L363.30,248.95 L363.88,246.50 L364.46,245.44 L365.04,244.69 L365.63,245.51 L366.21,246.30 L366.79,247.09 L367.38,249.05 L367.96,249.57 L368.54,251.06 L369.13,252.24 L369.71,252.91 L370.29,253.83 L370.87,254.15 L371.46,254.76 L372.04,255.22 L372.62,255.48 L373.21,255.85 L373.79,256.16 L374.37,256.32 L374.96,256.60 L375.54,256.70 L376.12,256.90 L376.70,257.01 L377.29,257.10 L377.87,257.22 L378.45,257.29 L379.04,257.36 L379.62,257.42 L380.20,257.46 L380.79,257.49 L381.37,257.51 L381.95,257.53 L382.53,257.55 L383.12,257.56 L383.70,257.57 L383.70,257.60 L356.30,257.60Z" fill="#000" stroke="#000" stroke-width="0.35" stroke-linejoin="round"/>
<text x="380.50" y="243.30" font-size="4.4" text-anchor="end" fill="#000" stroke="#000" stroke-width="0.16" >29.8</text>
<rect x="197.5" y="261.8" width="29.0" height="21.3" fill="#fff" stroke="#000" stroke-width="0.85"/>
<path d="M198.30,282.50 L199.00,282.46 L199.71,282.22 L200.41,281.09 L201.11,277.77 L201.81,272.03 L202.52,267.12 L203.22,267.12 L203.92,270.75 L204.62,275.40 L205.33,278.86 L206.03,280.64 L206.73,281.38 L207.43,281.65 L208.14,281.80 L208.84,281.93 L209.54,282.06 L210.24,282.18 L210.95,282.29 L211.65,282.37 L212.35,282.42 L213.05,282.46 L213.76,282.48 L214.46,282.49 L215.16,282.49 L215.86,282.50 L216.57,282.50 L217.27,282.50 L217.97,282.50 L218.67,282.50 L219.38,282.50 L220.08,282.50 L220.78,282.50 L221.48,282.50 L222.19,282.50 L222.89,282.50 L223.59,282.50 L224.29,282.50 L225.00,282.50 L225.70,282.50" fill="none" stroke="#666" stroke-width="0.55"/>
<path d="M198.30,282.50 L198.88,282.50 L199.47,282.50 L200.05,282.50 L200.63,282.50 L201.21,282.49 L201.80,282.45 L202.38,282.27 L202.96,281.71 L203.55,280.39 L204.13,278.13 L204.71,274.65 L205.30,271.85 L205.88,271.07 L206.46,271.17 L207.04,273.85 L207.63,275.08 L208.21,274.93 L208.79,274.05 L209.38,274.56 L209.96,276.45 L210.54,278.80 L211.13,280.52 L211.71,281.51 L212.29,281.87 L212.87,282.02 L213.46,282.07 L214.04,282.07 L214.62,282.09 L215.21,282.09 L215.79,282.11 L216.37,282.15 L216.96,282.15 L217.54,282.21 L218.12,282.22 L218.70,282.25 L219.29,282.28 L219.87,282.31 L220.45,282.32 L221.04,282.36 L221.62,282.37 L222.20,282.39 L222.79,282.41 L223.37,282.43 L223.95,282.44 L224.53,282.45 L225.12,282.46 L225.70,282.47 L225.70,282.50 L198.30,282.50Z" fill="#000" stroke="#000" stroke-width="0.35" stroke-linejoin="round"/>
<text x="222.50" y="268.20" font-size="4.4" text-anchor="end" fill="#000" stroke="#000" stroke-width="0.16" >22.8</text>
<rect x="228.9" y="261.8" width="29.0" height="21.3" fill="#fff" stroke="#000" stroke-width="0.85"/>
<path d="M229.70,282.50 L230.40,282.50 L231.11,282.49 L231.81,282.44 L232.51,282.12 L233.21,280.76 L233.92,277.25 L234.62,271.99 L235.32,268.52 L236.02,269.53 L236.73,273.15 L237.43,277.09 L238.13,279.72 L238.83,280.98 L239.54,281.50 L240.24,281.70 L240.94,281.83 L241.64,281.96 L242.35,282.09 L243.05,282.21 L243.75,282.31 L244.45,282.38 L245.16,282.43 L245.86,282.46 L246.56,282.48 L247.26,282.49 L247.97,282.50 L248.67,282.50 L249.37,282.50 L250.07,282.50 L250.78,282.50 L251.48,282.50 L252.18,282.50 L252.88,282.50 L253.59,282.50 L254.29,282.50 L254.99,282.50 L255.69,282.50 L256.40,282.50 L257.10,282.50" fill="none" stroke="#666" stroke-width="0.55"/>
<path d="M229.70,282.50 L230.28,282.50 L230.87,282.49 L231.45,282.49 L232.03,282.48 L232.61,282.46 L233.20,282.44 L233.78,282.41 L234.36,282.35 L234.95,282.28 L235.53,282.18 L236.11,282.04 L236.70,281.88 L237.28,281.68 L237.86,281.43 L238.44,281.09 L239.03,280.70 L239.61,280.07 L240.19,279.14 L240.78,278.06 L241.36,276.60 L241.94,275.16 L242.53,274.14 L243.11,272.98 L243.69,272.87 L244.27,272.94 L244.86,274.07 L245.44,275.43 L246.02,276.43 L246.61,277.46 L247.19,278.79 L247.77,279.37 L248.36,280.21 L248.94,280.60 L249.52,280.95 L250.10,281.17 L250.69,281.39 L251.27,281.61 L251.85,281.80 L252.44,281.90 L253.02,282.04 L253.60,282.13 L254.19,282.18 L254.77,282.25 L255.35,282.29 L255.93,282.33 L256.52,282.36 L257.10,282.39 L257.10,282.50 L229.70,282.50Z" fill="#000" stroke="#000" stroke-width="0.35" stroke-linejoin="round"/>
<text x="253.90" y="268.20" font-size="4.4" text-anchor="end" fill="#000" stroke="#000" stroke-width="0.16" >146.3</text>
<rect x="260.5" y="261.8" width="29.0" height="21.3" fill="#fff" stroke="#000" stroke-width="0.85"/>
<path d="M261.30,282.50 L262.00,282.50 L262.71,282.50 L263.41,282.46 L264.11,282.23 L264.81,281.16 L265.52,278.13 L266.22,273.02 L266.92,268.85 L267.62,269.06 L268.33,272.35 L269.03,276.39 L269.73,279.33 L270.43,280.82 L271.14,281.43 L271.84,281.67 L272.54,281.80 L273.24,281.94 L273.95,282.07 L274.65,282.19 L275.35,282.29 L276.05,282.37 L276.76,282.42 L277.46,282.46 L278.16,282.48 L278.86,282.49 L279.57,282.50 L280.27,282.50 L280.97,282.50 L281.67,282.50 L282.38,282.50 L283.08,282.50 L283.78,282.50 L284.48,282.50 L285.19,282.50 L285.89,282.50 L286.59,282.50 L287.29,282.50 L288.00,282.50 L288.70,282.50" fill="none" stroke="#666" stroke-width="0.55"/>
<path d="M261.30,282.50 L261.88,282.50 L262.47,282.49 L263.05,282.49 L263.63,282.48 L264.21,282.46 L264.80,282.44 L265.38,282.41 L265.96,282.35 L266.55,282.29 L267.13,282.17 L267.71,282.07 L268.30,281.91 L268.88,281.69 L269.46,281.34 L270.04,281.07 L270.63,280.68 L271.21,280.14 L271.79,279.37 L272.38,278.06 L272.96,276.72 L273.54,275.17 L274.13,273.74 L274.71,273.44 L275.29,272.72 L275.87,273.34 L276.46,273.82 L277.04,275.03 L277.62,276.28 L278.21,277.89 L278.79,278.54 L279.37,279.36 L279.96,279.98 L280.54,280.63 L281.12,280.96 L281.70,281.25 L282.29,281.48 L282.87,281.60 L283.45,281.77 L284.04,281.92 L284.62,282.02 L285.20,282.11 L285.79,282.20 L286.37,282.26 L286.95,282.30 L287.53,282.33 L288.12,282.37 L288.70,282.39 L288.70,282.50 L261.30,282.50Z" fill="#000" stroke="#000" stroke-width="0.35" stroke-linejoin="round"/>
<text x="285.50" y="268.20" font-size="4.4" text-anchor="end" fill="#000" stroke="#000" stroke-width="0.16" >161.3</text>
<rect x="291.8" y="261.8" width="29.0" height="21.3" fill="#fff" stroke="#000" stroke-width="0.85"/>
<path d="M292.60,282.50 L293.30,282.50 L294.01,282.49 L294.71,282.38 L295.41,281.78 L296.11,279.69 L296.82,275.27 L297.52,270.16 L298.22,268.48 L298.92,270.75 L299.63,274.77 L300.33,278.30 L301.03,280.35 L301.73,281.25 L302.44,281.59 L303.14,281.75 L303.84,281.88 L304.54,282.01 L305.25,282.14 L305.95,282.25 L306.65,282.34 L307.35,282.40 L308.06,282.44 L308.76,282.47 L309.46,282.49 L310.16,282.49 L310.87,282.50 L311.57,282.50 L312.27,282.50 L312.97,282.50 L313.68,282.50 L314.38,282.50 L315.08,282.50 L315.78,282.50 L316.49,282.50 L317.19,282.50 L317.89,282.50 L318.59,282.50 L319.30,282.50 L320.00,282.50" fill="none" stroke="#666" stroke-width="0.55"/>
<path d="M292.60,282.50 L293.18,282.50 L293.77,282.50 L294.35,282.50 L294.93,282.50 L295.51,282.50 L296.10,282.50 L296.68,282.50 L297.26,282.50 L297.85,282.48 L298.43,282.42 L299.01,282.26 L299.60,281.84 L300.18,281.02 L300.76,279.66 L301.34,278.28 L301.93,276.80 L302.51,276.25 L303.09,276.50 L303.68,276.05 L304.26,275.47 L304.84,273.03 L305.43,272.72 L306.01,273.28 L306.59,273.84 L307.17,274.51 L307.76,275.74 L308.34,277.67 L308.92,278.67 L309.51,279.72 L310.09,280.45 L310.67,281.12 L311.26,281.45 L311.84,281.69 L312.42,281.81 L313.00,281.94 L313.59,281.97 L314.17,282.05 L314.75,282.10 L315.34,282.12 L315.92,282.17 L316.50,282.22 L317.09,282.25 L317.67,282.29 L318.25,282.31 L318.83,282.34 L319.42,282.37 L320.00,282.39 L320.00,282.50 L292.60,282.50Z" fill="#000" stroke="#000" stroke-width="0.35" stroke-linejoin="round"/>
<text x="316.80" y="268.20" font-size="4.4" text-anchor="end" fill="#000" stroke="#000" stroke-width="0.16" >101.5</text>
<rect x="323.6" y="261.8" width="29.0" height="21.3" fill="#fff" stroke="#000" stroke-width="0.85"/>
<path d="M324.40,282.49 L325.10,282.44 L325.81,282.09 L326.51,280.58 L327.21,276.57 L327.91,270.38 L328.62,266.06 L329.32,267.03 L330.02,271.24 L330.72,275.98 L331.43,279.23 L332.13,280.81 L332.83,281.45 L333.53,281.68 L334.24,281.82 L334.94,281.95 L335.64,282.09 L336.34,282.21 L337.05,282.30 L337.75,282.38 L338.45,282.43 L339.15,282.46 L339.86,282.48 L340.56,282.49 L341.26,282.50 L341.96,282.50 L342.67,282.50 L343.37,282.50 L344.07,282.50 L344.77,282.50 L345.48,282.50 L346.18,282.50 L346.88,282.50 L347.58,282.50 L348.29,282.50 L348.99,282.50 L349.69,282.50 L350.39,282.50 L351.10,282.50 L351.80,282.50" fill="none" stroke="#666" stroke-width="0.55"/>
<path d="M324.40,282.47 L324.98,282.45 L325.57,282.41 L326.15,282.35 L326.73,282.29 L327.31,282.16 L327.90,282.04 L328.48,281.83 L329.06,281.57 L329.65,281.16 L330.23,280.79 L330.81,280.25 L331.40,279.31 L331.98,278.43 L332.56,276.87 L333.14,275.06 L333.73,273.10 L334.31,271.78 L334.89,271.44 L335.48,271.98 L336.06,272.64 L336.64,273.75 L337.23,274.30 L337.81,275.63 L338.39,276.71 L338.97,277.99 L339.56,278.66 L340.14,279.18 L340.72,279.76 L341.31,280.28 L341.89,280.55 L342.47,280.78 L343.06,281.13 L343.64,281.35 L344.22,281.53 L344.80,281.66 L345.39,281.80 L345.97,281.96 L346.55,282.06 L347.14,282.14 L347.72,282.20 L348.30,282.26 L348.89,282.31 L349.47,282.35 L350.05,282.38 L350.63,282.40 L351.22,282.43 L351.80,282.45 L351.80,282.50 L324.40,282.50Z" fill="#000" stroke="#000" stroke-width="0.35" stroke-linejoin="round"/>
<text x="348.60" y="268.20" font-size="4.4" text-anchor="end" fill="#000" stroke="#000" stroke-width="0.16" >50.0</text>
<rect x="355.5" y="260.3" width="29.0" height="21.3" fill="#fff" stroke="#000" stroke-width="0.85"/>
<path d="M356.30,280.99 L357.00,280.94 L357.71,280.58 L358.41,279.03 L359.11,274.92 L359.81,268.57 L360.52,264.14 L361.22,265.13 L361.92,269.46 L362.62,274.32 L363.33,277.66 L364.03,279.29 L364.73,279.94 L365.43,280.18 L366.14,280.32 L366.84,280.45 L367.54,280.59 L368.24,280.71 L368.95,280.80 L369.65,280.88 L370.35,280.93 L371.05,280.96 L371.76,280.98 L372.46,280.99 L373.16,281.00 L373.86,281.00 L374.57,281.00 L375.27,281.00 L375.97,281.00 L376.67,281.00 L377.38,281.00 L378.08,281.00 L378.78,281.00 L379.48,281.00 L380.19,281.00 L380.89,281.00 L381.59,281.00 L382.29,281.00 L383.00,281.00 L383.70,281.00" fill="none" stroke="#666" stroke-width="0.55"/>
<path d="M356.30,280.95 L356.88,280.91 L357.47,280.82 L358.05,280.66 L358.63,280.44 L359.21,280.12 L359.80,279.71 L360.38,279.16 L360.96,278.18 L361.55,277.01 L362.13,274.96 L362.71,272.28 L363.30,270.38 L363.88,269.07 L364.46,268.74 L365.04,269.44 L365.63,270.56 L366.21,271.54 L366.79,272.89 L367.38,274.30 L367.96,275.09 L368.54,276.13 L369.13,276.75 L369.71,277.33 L370.29,278.00 L370.87,278.39 L371.46,278.72 L372.04,279.11 L372.62,279.43 L373.21,279.60 L373.79,279.81 L374.37,280.02 L374.96,280.19 L375.54,280.33 L376.12,280.46 L376.70,280.56 L377.29,280.66 L377.87,280.73 L378.45,280.78 L379.04,280.84 L379.62,280.87 L380.20,280.89 L380.79,280.92 L381.37,280.94 L381.95,280.96 L382.53,280.97 L383.12,280.98 L383.70,280.98 L383.70,281.00 L356.30,281.00Z" fill="#000" stroke="#000" stroke-width="0.35" stroke-linejoin="round"/>
<text x="380.50" y="266.70" font-size="4.4" text-anchor="end" fill="#000" stroke="#000" stroke-width="0.16" >21.6</text>
<line x1="211" y1="290.5" x2="366" y2="290.5" stroke="#000" stroke-width="1.3"/>
<polygon points="364.6,286.9 372.6,290.6 364.6,294.3" fill="#000"/>
<text x="294.30" y="300.50" font-size="7.5" text-anchor="middle" fill="#000" stroke="#000" stroke-width="0.18" >GITR</text>
</svg>
</body></html>
